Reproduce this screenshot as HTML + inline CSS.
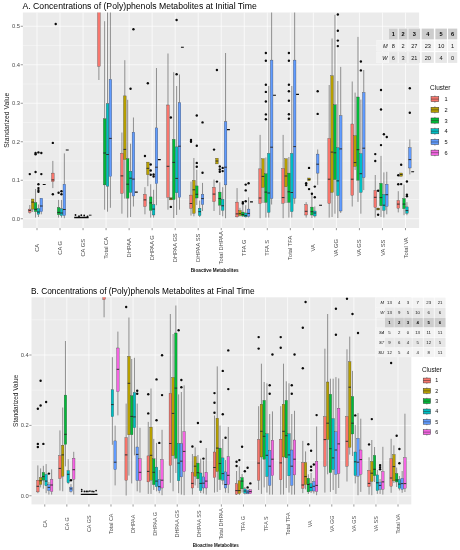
<!DOCTYPE html>
<html><head><meta charset="utf-8"><title>Figure</title>
<style>html,body{margin:0;padding:0;background:#fff}svg{display:block}</style>
</head><body>
<svg width="460" height="550" viewBox="0 0 460 550" font-family="Liberation Sans, sans-serif">
<rect width="460" height="550" fill="#fff"/>
<defs><filter id="soft" x="0" y="0" width="460" height="550" filterUnits="userSpaceOnUse" color-interpolation-filters="sRGB"><feGaussianBlur stdDeviation="0.3"/></filter></defs>
<g filter="url(#soft)">
<rect width="460" height="550" fill="#fff"/>
<clipPath id="cpA"><rect x="22.9" y="12.5" width="396.20000000000005" height="215.5"/></clipPath>
<rect x="22.9" y="12.5" width="396.20000000000005" height="215.5" fill="#EBEBEB"/>
<line x1="22.9" x2="419.1" y1="199.5" y2="199.5" stroke="#fff" stroke-width="0.35"/>
<line x1="22.9" x2="419.1" y1="161.0" y2="161.0" stroke="#fff" stroke-width="0.35"/>
<line x1="22.9" x2="419.1" y1="122.5" y2="122.5" stroke="#fff" stroke-width="0.35"/>
<line x1="22.9" x2="419.1" y1="84.0" y2="84.0" stroke="#fff" stroke-width="0.35"/>
<line x1="22.9" x2="419.1" y1="45.5" y2="45.5" stroke="#fff" stroke-width="0.35"/>
<line x1="22.9" x2="419.1" y1="218.75" y2="218.75" stroke="#fff" stroke-width="0.7"/>
<line x1="22.9" x2="419.1" y1="180.25" y2="180.25" stroke="#fff" stroke-width="0.7"/>
<line x1="22.9" x2="419.1" y1="141.75" y2="141.75" stroke="#fff" stroke-width="0.7"/>
<line x1="22.9" x2="419.1" y1="103.25" y2="103.25" stroke="#fff" stroke-width="0.7"/>
<line x1="22.9" x2="419.1" y1="64.75" y2="64.75" stroke="#fff" stroke-width="0.7"/>
<line x1="22.9" x2="419.1" y1="26.25" y2="26.25" stroke="#fff" stroke-width="0.7"/>
<line x1="37.00" x2="37.00" y1="12.5" y2="228.0" stroke="#fff" stroke-width="0.7"/>
<line x1="60.03" x2="60.03" y1="12.5" y2="228.0" stroke="#fff" stroke-width="0.7"/>
<line x1="83.06" x2="83.06" y1="12.5" y2="228.0" stroke="#fff" stroke-width="0.7"/>
<line x1="106.09" x2="106.09" y1="12.5" y2="228.0" stroke="#fff" stroke-width="0.7"/>
<line x1="129.12" x2="129.12" y1="12.5" y2="228.0" stroke="#fff" stroke-width="0.7"/>
<line x1="152.15" x2="152.15" y1="12.5" y2="228.0" stroke="#fff" stroke-width="0.7"/>
<line x1="175.18" x2="175.18" y1="12.5" y2="228.0" stroke="#fff" stroke-width="0.7"/>
<line x1="198.21" x2="198.21" y1="12.5" y2="228.0" stroke="#fff" stroke-width="0.7"/>
<line x1="221.24" x2="221.24" y1="12.5" y2="228.0" stroke="#fff" stroke-width="0.7"/>
<line x1="244.27" x2="244.27" y1="12.5" y2="228.0" stroke="#fff" stroke-width="0.7"/>
<line x1="267.30" x2="267.30" y1="12.5" y2="228.0" stroke="#fff" stroke-width="0.7"/>
<line x1="290.33" x2="290.33" y1="12.5" y2="228.0" stroke="#fff" stroke-width="0.7"/>
<line x1="313.36" x2="313.36" y1="12.5" y2="228.0" stroke="#fff" stroke-width="0.7"/>
<line x1="336.39" x2="336.39" y1="12.5" y2="228.0" stroke="#fff" stroke-width="0.7"/>
<line x1="359.42" x2="359.42" y1="12.5" y2="228.0" stroke="#fff" stroke-width="0.7"/>
<line x1="382.45" x2="382.45" y1="12.5" y2="228.0" stroke="#fff" stroke-width="0.7"/>
<line x1="405.48" x2="405.48" y1="12.5" y2="228.0" stroke="#fff" stroke-width="0.7"/>
<g clip-path="url(#cpA)">
<line x1="29.80" x2="29.80" y1="205" y2="209.1" stroke="#333333" stroke-width="0.5"/>
<line x1="29.80" x2="29.80" y1="212.4" y2="213.7" stroke="#333333" stroke-width="0.5"/>
<rect x="28.48" y="209.1" width="2.64" height="3.30" fill="#F8766D" stroke="#333333" stroke-width="0.3"/>
<line x1="28.46" x2="31.14" y1="210.4" y2="210.4" stroke="#222" stroke-width="0.9"/>
<line x1="32.68" x2="32.68" y1="209.1" y2="212" stroke="#333333" stroke-width="0.5"/>
<rect x="31.36" y="199" width="2.64" height="10.10" fill="#B79F00" stroke="#333333" stroke-width="0.3"/>
<line x1="31.34" x2="34.02" y1="202.1" y2="202.1" stroke="#222" stroke-width="0.9"/>
<line x1="35.56" x2="35.56" y1="189" y2="202.5" stroke="#333333" stroke-width="0.5"/>
<line x1="35.56" x2="35.56" y1="211.7" y2="217.6" stroke="#333333" stroke-width="0.5"/>
<rect x="34.24" y="202.5" width="2.64" height="9.20" fill="#00BA38" stroke="#333333" stroke-width="0.3"/>
<line x1="34.22" x2="36.90" y1="209.3" y2="209.3" stroke="#222" stroke-width="0.9"/>
<line x1="38.44" x2="38.44" y1="204.5" y2="208.4" stroke="#333333" stroke-width="0.5"/>
<line x1="38.44" x2="38.44" y1="214.3" y2="217" stroke="#333333" stroke-width="0.5"/>
<rect x="37.12" y="208.4" width="2.64" height="5.90" fill="#00BFC4" stroke="#333333" stroke-width="0.3"/>
<line x1="37.10" x2="39.78" y1="212" y2="212" stroke="#222" stroke-width="0.9"/>
<line x1="41.32" x2="41.32" y1="211.7" y2="214.3" stroke="#333333" stroke-width="0.5"/>
<rect x="40.00" y="198.2" width="2.64" height="13.50" fill="#619CFF" stroke="#333333" stroke-width="0.3"/>
<line x1="39.98" x2="42.66" y1="206" y2="206" stroke="#222" stroke-width="0.9"/>
<line x1="42.76" x2="45.64" y1="184.5" y2="184.5" stroke="#0a0a0a" stroke-width="1.15"/>
<circle cx="29.80" cy="174.1" r="1.2" fill="#0a0a0a"/>
<circle cx="35.56" cy="172" r="1.2" fill="#0a0a0a"/>
<circle cx="35.56" cy="153" r="1.2" fill="#0a0a0a"/>
<circle cx="35.56" cy="154.2" r="1.2" fill="#0a0a0a"/>
<circle cx="38.44" cy="152.4" r="1.2" fill="#0a0a0a"/>
<circle cx="38.44" cy="184.2" r="1.2" fill="#0a0a0a"/>
<circle cx="38.44" cy="188.1" r="1.2" fill="#0a0a0a"/>
<circle cx="38.44" cy="190.1" r="1.2" fill="#0a0a0a"/>
<circle cx="38.44" cy="191.8" r="1.2" fill="#0a0a0a"/>
<circle cx="41.32" cy="174.1" r="1.2" fill="#0a0a0a"/>
<circle cx="41.32" cy="153" r="1.2" fill="#0a0a0a"/>
<line x1="52.83" x2="52.83" y1="160.9" y2="173.1" stroke="#333333" stroke-width="0.5"/>
<line x1="52.83" x2="52.83" y1="181.6" y2="188.1" stroke="#333333" stroke-width="0.5"/>
<rect x="51.51" y="173.1" width="2.64" height="8.50" fill="#F8766D" stroke="#333333" stroke-width="0.3"/>
<line x1="51.49" x2="54.17" y1="179.9" y2="179.9" stroke="#222" stroke-width="0.9"/>
<line x1="58.59" x2="58.59" y1="199.9" y2="207.4" stroke="#333333" stroke-width="0.5"/>
<line x1="58.59" x2="58.59" y1="214.7" y2="217.6" stroke="#333333" stroke-width="0.5"/>
<rect x="57.27" y="207.4" width="2.64" height="7.30" fill="#00BA38" stroke="#333333" stroke-width="0.3"/>
<line x1="57.25" x2="59.93" y1="212.4" y2="212.4" stroke="#222" stroke-width="0.9"/>
<line x1="61.47" x2="61.47" y1="199.9" y2="208.7" stroke="#333333" stroke-width="0.5"/>
<line x1="61.47" x2="61.47" y1="215.6" y2="217.6" stroke="#333333" stroke-width="0.5"/>
<rect x="60.15" y="208.7" width="2.64" height="6.90" fill="#00BFC4" stroke="#333333" stroke-width="0.3"/>
<line x1="60.13" x2="62.81" y1="213" y2="213" stroke="#222" stroke-width="0.9"/>
<line x1="64.35" x2="64.35" y1="153.4" y2="184.2" stroke="#333333" stroke-width="0.5"/>
<line x1="64.35" x2="64.35" y1="215.6" y2="218.2" stroke="#333333" stroke-width="0.5"/>
<rect x="63.03" y="184.2" width="2.64" height="31.40" fill="#619CFF" stroke="#333333" stroke-width="0.3"/>
<line x1="63.01" x2="65.69" y1="209.5" y2="209.5" stroke="#222" stroke-width="0.9"/>
<line x1="65.79" x2="68.67" y1="150" y2="150" stroke="#0a0a0a" stroke-width="1.15"/>
<circle cx="52.83" cy="142.9" r="1.2" fill="#0a0a0a"/>
<circle cx="52.83" cy="194.3" r="1.2" fill="#0a0a0a"/>
<circle cx="55.71" cy="24" r="1.2" fill="#0a0a0a"/>
<circle cx="58.59" cy="192.7" r="1.2" fill="#0a0a0a"/>
<circle cx="61.47" cy="191.2" r="1.2" fill="#0a0a0a"/>
<circle cx="61.47" cy="194.3" r="1.2" fill="#0a0a0a"/>
<line x1="74.2" x2="88.6" y1="217.6" y2="217.6" stroke="#0a0a0a" stroke-width="1.5"/>
<line x1="88.9" x2="91.5" y1="215.2" y2="215.2" stroke="#111" stroke-width="0.9"/>
<circle cx="75.5" cy="215.0" r="0.9" fill="#0a0a0a"/>
<circle cx="81.3" cy="215.2" r="0.9" fill="#0a0a0a"/>
<circle cx="84.2" cy="215.5" r="0.9" fill="#0a0a0a"/>
<circle cx="79.0" cy="216.2" r="0.9" fill="#0a0a0a"/>
<circle cx="87.5" cy="216.5" r="0.9" fill="#0a0a0a"/>
<line x1="98.89" x2="98.89" y1="66.3" y2="80" stroke="#333333" stroke-width="0.5"/>
<rect x="97.57" y="0" width="2.64" height="66.30" fill="#F8766D" stroke="#333333" stroke-width="0.3"/>
<line x1="104.65" x2="104.65" y1="21.2" y2="118.8" stroke="#333333" stroke-width="0.5"/>
<line x1="104.65" x2="104.65" y1="184.9" y2="209.7" stroke="#333333" stroke-width="0.5"/>
<rect x="103.33" y="118.8" width="2.64" height="66.10" fill="#00BA38" stroke="#333333" stroke-width="0.3"/>
<line x1="103.31" x2="105.99" y1="153" y2="153" stroke="#222" stroke-width="0.9"/>
<line x1="107.53" x2="107.53" y1="0" y2="103.7" stroke="#333333" stroke-width="0.5"/>
<line x1="107.53" x2="107.53" y1="186.2" y2="211.7" stroke="#333333" stroke-width="0.5"/>
<rect x="106.21" y="103.7" width="2.64" height="82.50" fill="#00BFC4" stroke="#333333" stroke-width="0.3"/>
<line x1="106.19" x2="108.87" y1="154.5" y2="154.5" stroke="#222" stroke-width="0.9"/>
<line x1="110.41" x2="110.41" y1="0" y2="79.4" stroke="#333333" stroke-width="0.5"/>
<line x1="110.41" x2="110.41" y1="176.4" y2="207.8" stroke="#333333" stroke-width="0.5"/>
<rect x="109.09" y="79.4" width="2.64" height="97.00" fill="#619CFF" stroke="#333333" stroke-width="0.3"/>
<line x1="109.07" x2="111.75" y1="138.4" y2="138.4" stroke="#222" stroke-width="0.9"/>
<line x1="121.92" x2="121.92" y1="132.5" y2="153.3" stroke="#333333" stroke-width="0.5"/>
<line x1="121.92" x2="121.92" y1="193.4" y2="213.7" stroke="#333333" stroke-width="0.5"/>
<rect x="120.60" y="153.3" width="2.64" height="40.10" fill="#F8766D" stroke="#333333" stroke-width="0.3"/>
<line x1="120.58" x2="123.26" y1="175.9" y2="175.9" stroke="#222" stroke-width="0.9"/>
<line x1="124.80" x2="124.80" y1="60.2" y2="95.9" stroke="#333333" stroke-width="0.5"/>
<line x1="124.80" x2="124.80" y1="159.5" y2="198.6" stroke="#333333" stroke-width="0.5"/>
<rect x="123.48" y="95.9" width="2.64" height="63.60" fill="#B79F00" stroke="#333333" stroke-width="0.3"/>
<line x1="123.46" x2="126.14" y1="149.4" y2="149.4" stroke="#222" stroke-width="0.9"/>
<line x1="127.68" x2="127.68" y1="99.8" y2="158.6" stroke="#333333" stroke-width="0.5"/>
<line x1="127.68" x2="127.68" y1="198.2" y2="217.6" stroke="#333333" stroke-width="0.5"/>
<rect x="126.36" y="158.6" width="2.64" height="39.60" fill="#00BA38" stroke="#333333" stroke-width="0.3"/>
<line x1="126.34" x2="129.02" y1="184.2" y2="184.2" stroke="#222" stroke-width="0.9"/>
<line x1="130.56" x2="130.56" y1="143.7" y2="171.2" stroke="#333333" stroke-width="0.5"/>
<line x1="130.56" x2="130.56" y1="192.5" y2="217" stroke="#333333" stroke-width="0.5"/>
<rect x="129.24" y="171.2" width="2.64" height="21.30" fill="#00BFC4" stroke="#333333" stroke-width="0.3"/>
<line x1="129.22" x2="131.90" y1="178.2" y2="178.2" stroke="#222" stroke-width="0.9"/>
<line x1="133.44" x2="133.44" y1="117.5" y2="132.2" stroke="#333333" stroke-width="0.5"/>
<line x1="133.44" x2="133.44" y1="196" y2="206.5" stroke="#333333" stroke-width="0.5"/>
<rect x="132.12" y="132.2" width="2.64" height="63.80" fill="#619CFF" stroke="#333333" stroke-width="0.3"/>
<line x1="132.10" x2="134.78" y1="179.1" y2="179.1" stroke="#222" stroke-width="0.9"/>
<line x1="134.88" x2="137.76" y1="192.1" y2="192.1" stroke="#0a0a0a" stroke-width="1.15"/>
<circle cx="130.56" cy="88.7" r="1.2" fill="#0a0a0a"/>
<circle cx="133.44" cy="29.3" r="1.2" fill="#0a0a0a"/>
<line x1="144.95" x2="144.95" y1="187.2" y2="194.3" stroke="#333333" stroke-width="0.5"/>
<line x1="144.95" x2="144.95" y1="206.5" y2="214.3" stroke="#333333" stroke-width="0.5"/>
<rect x="143.63" y="194.3" width="2.64" height="12.20" fill="#F8766D" stroke="#333333" stroke-width="0.3"/>
<line x1="143.61" x2="146.29" y1="199.9" y2="199.9" stroke="#222" stroke-width="0.9"/>
<line x1="147.83" x2="147.83" y1="174.7" y2="186.2" stroke="#333333" stroke-width="0.5"/>
<rect x="146.51" y="162.1" width="2.64" height="12.60" fill="#B79F00" stroke="#333333" stroke-width="0.3"/>
<line x1="146.49" x2="149.17" y1="168.3" y2="168.3" stroke="#222" stroke-width="0.9"/>
<line x1="150.71" x2="150.71" y1="184.2" y2="196.9" stroke="#333333" stroke-width="0.5"/>
<line x1="150.71" x2="150.71" y1="210.4" y2="217.6" stroke="#333333" stroke-width="0.5"/>
<rect x="149.39" y="196.9" width="2.64" height="13.50" fill="#00BA38" stroke="#333333" stroke-width="0.3"/>
<line x1="149.37" x2="152.05" y1="202.9" y2="202.9" stroke="#222" stroke-width="0.9"/>
<line x1="153.59" x2="153.59" y1="189.8" y2="204.5" stroke="#333333" stroke-width="0.5"/>
<line x1="153.59" x2="153.59" y1="215" y2="217.6" stroke="#333333" stroke-width="0.5"/>
<rect x="152.27" y="204.5" width="2.64" height="10.50" fill="#00BFC4" stroke="#333333" stroke-width="0.3"/>
<line x1="152.25" x2="154.93" y1="209.1" y2="209.1" stroke="#222" stroke-width="0.9"/>
<line x1="156.47" x2="156.47" y1="68" y2="127.9" stroke="#333333" stroke-width="0.5"/>
<line x1="156.47" x2="156.47" y1="183.6" y2="205.2" stroke="#333333" stroke-width="0.5"/>
<rect x="155.15" y="127.9" width="2.64" height="55.70" fill="#619CFF" stroke="#333333" stroke-width="0.3"/>
<line x1="155.13" x2="157.81" y1="167.2" y2="167.2" stroke="#222" stroke-width="0.9"/>
<line x1="157.91" x2="160.79" y1="159.6" y2="159.6" stroke="#0a0a0a" stroke-width="1.15"/>
<circle cx="144.95" cy="156" r="1.2" fill="#0a0a0a"/>
<circle cx="147.83" cy="83.3" r="1.2" fill="#0a0a0a"/>
<circle cx="150.71" cy="164.5" r="1.2" fill="#0a0a0a"/>
<circle cx="150.71" cy="170.5" r="1.2" fill="#0a0a0a"/>
<circle cx="150.71" cy="174.7" r="1.2" fill="#0a0a0a"/>
<circle cx="153.59" cy="174.5" r="1.2" fill="#0a0a0a"/>
<circle cx="153.59" cy="176.5" r="1.2" fill="#0a0a0a"/>
<line x1="167.98" x2="167.98" y1="53.5" y2="105" stroke="#333333" stroke-width="0.5"/>
<line x1="167.98" x2="167.98" y1="197.3" y2="209.7" stroke="#333333" stroke-width="0.5"/>
<rect x="166.66" y="105" width="2.64" height="92.30" fill="#F8766D" stroke="#333333" stroke-width="0.3"/>
<line x1="166.64" x2="169.32" y1="166.3" y2="166.3" stroke="#222" stroke-width="0.9"/>
<rect x="169.54" y="197.7" width="2.64" height="2.20" fill="#B79F00" stroke="#333333" stroke-width="0.3"/>
<line x1="169.52" x2="172.20" y1="198.8" y2="198.8" stroke="#222" stroke-width="0.9"/>
<line x1="173.74" x2="173.74" y1="72.1" y2="139.3" stroke="#333333" stroke-width="0.5"/>
<line x1="173.74" x2="173.74" y1="199.6" y2="218" stroke="#333333" stroke-width="0.5"/>
<rect x="172.42" y="139.3" width="2.64" height="60.30" fill="#00BA38" stroke="#333333" stroke-width="0.3"/>
<line x1="172.40" x2="175.08" y1="162.4" y2="162.4" stroke="#222" stroke-width="0.9"/>
<line x1="176.62" x2="176.62" y1="86" y2="146.9" stroke="#333333" stroke-width="0.5"/>
<line x1="176.62" x2="176.62" y1="192.8" y2="215" stroke="#333333" stroke-width="0.5"/>
<rect x="175.30" y="146.9" width="2.64" height="45.90" fill="#00BFC4" stroke="#333333" stroke-width="0.3"/>
<line x1="175.28" x2="177.96" y1="178.4" y2="178.4" stroke="#222" stroke-width="0.9"/>
<line x1="179.50" x2="179.50" y1="74.5" y2="102.7" stroke="#333333" stroke-width="0.5"/>
<line x1="179.50" x2="179.50" y1="197.3" y2="209.7" stroke="#333333" stroke-width="0.5"/>
<rect x="178.18" y="102.7" width="2.64" height="94.60" fill="#619CFF" stroke="#333333" stroke-width="0.3"/>
<line x1="178.16" x2="180.84" y1="146.2" y2="146.2" stroke="#222" stroke-width="0.9"/>
<line x1="180.94" x2="183.82" y1="47.2" y2="47.2" stroke="#0a0a0a" stroke-width="1.15"/>
<circle cx="170.86" cy="117.5" r="1.2" fill="#0a0a0a"/>
<circle cx="170.86" cy="206.9" r="1.2" fill="#0a0a0a"/>
<circle cx="176.62" cy="20" r="1.2" fill="#0a0a0a"/>
<circle cx="176.62" cy="74.2" r="1.2" fill="#0a0a0a"/>
<line x1="191.01" x2="191.01" y1="181.6" y2="195.1" stroke="#333333" stroke-width="0.5"/>
<line x1="191.01" x2="191.01" y1="208.2" y2="215.6" stroke="#333333" stroke-width="0.5"/>
<rect x="189.69" y="195.1" width="2.64" height="13.10" fill="#F8766D" stroke="#333333" stroke-width="0.3"/>
<line x1="189.67" x2="192.35" y1="203.5" y2="203.5" stroke="#222" stroke-width="0.9"/>
<line x1="193.89" x2="193.89" y1="158" y2="180.3" stroke="#333333" stroke-width="0.5"/>
<line x1="193.89" x2="193.89" y1="213.4" y2="216.3" stroke="#333333" stroke-width="0.5"/>
<rect x="192.57" y="180.3" width="2.64" height="33.10" fill="#B79F00" stroke="#333333" stroke-width="0.3"/>
<line x1="192.55" x2="195.23" y1="189.8" y2="189.8" stroke="#222" stroke-width="0.9"/>
<line x1="196.77" x2="196.77" y1="169.8" y2="185.9" stroke="#333333" stroke-width="0.5"/>
<line x1="196.77" x2="196.77" y1="198" y2="205" stroke="#333333" stroke-width="0.5"/>
<rect x="195.45" y="185.9" width="2.64" height="12.10" fill="#00BA38" stroke="#333333" stroke-width="0.3"/>
<line x1="195.43" x2="198.11" y1="194.3" y2="194.3" stroke="#222" stroke-width="0.9"/>
<line x1="199.65" x2="199.65" y1="200.6" y2="208.2" stroke="#333333" stroke-width="0.5"/>
<line x1="199.65" x2="199.65" y1="215.6" y2="217" stroke="#333333" stroke-width="0.5"/>
<rect x="198.33" y="208.2" width="2.64" height="7.40" fill="#00BFC4" stroke="#333333" stroke-width="0.3"/>
<line x1="198.31" x2="200.99" y1="211.7" y2="211.7" stroke="#222" stroke-width="0.9"/>
<line x1="202.53" x2="202.53" y1="182.9" y2="194.3" stroke="#333333" stroke-width="0.5"/>
<line x1="202.53" x2="202.53" y1="204.5" y2="211" stroke="#333333" stroke-width="0.5"/>
<rect x="201.21" y="194.3" width="2.64" height="10.20" fill="#619CFF" stroke="#333333" stroke-width="0.3"/>
<line x1="201.19" x2="203.87" y1="198.6" y2="198.6" stroke="#222" stroke-width="0.9"/>
<circle cx="191.01" cy="140" r="1.2" fill="#0a0a0a"/>
<circle cx="191.01" cy="141.8" r="1.2" fill="#0a0a0a"/>
<circle cx="196.77" cy="162.9" r="1.2" fill="#0a0a0a"/>
<circle cx="196.77" cy="166.8" r="1.2" fill="#0a0a0a"/>
<circle cx="196.77" cy="115.5" r="1.2" fill="#0a0a0a"/>
<circle cx="196.77" cy="145.8" r="1.2" fill="#0a0a0a"/>
<circle cx="202.53" cy="172.8" r="1.2" fill="#0a0a0a"/>
<circle cx="202.53" cy="122.4" r="1.2" fill="#0a0a0a"/>
<line x1="214.04" x2="214.04" y1="179.6" y2="187.3" stroke="#333333" stroke-width="0.5"/>
<line x1="214.04" x2="214.04" y1="201.6" y2="211" stroke="#333333" stroke-width="0.5"/>
<rect x="212.72" y="187.3" width="2.64" height="14.30" fill="#F8766D" stroke="#333333" stroke-width="0.3"/>
<line x1="212.70" x2="215.38" y1="194.1" y2="194.1" stroke="#222" stroke-width="0.9"/>
<rect x="215.60" y="158.2" width="2.64" height="5.70" fill="#B79F00" stroke="#333333" stroke-width="0.3"/>
<line x1="215.58" x2="218.26" y1="161" y2="161" stroke="#222" stroke-width="0.9"/>
<line x1="219.80" x2="219.80" y1="182.3" y2="192.1" stroke="#333333" stroke-width="0.5"/>
<line x1="219.80" x2="219.80" y1="205.2" y2="215" stroke="#333333" stroke-width="0.5"/>
<rect x="218.48" y="192.1" width="2.64" height="13.10" fill="#00BA38" stroke="#333333" stroke-width="0.3"/>
<line x1="218.46" x2="221.14" y1="198.6" y2="198.6" stroke="#222" stroke-width="0.9"/>
<line x1="222.68" x2="222.68" y1="187.2" y2="199.3" stroke="#333333" stroke-width="0.5"/>
<line x1="222.68" x2="222.68" y1="210.4" y2="216.3" stroke="#333333" stroke-width="0.5"/>
<rect x="221.36" y="199.3" width="2.64" height="11.10" fill="#00BFC4" stroke="#333333" stroke-width="0.3"/>
<line x1="221.34" x2="224.02" y1="205.8" y2="205.8" stroke="#222" stroke-width="0.9"/>
<line x1="225.56" x2="225.56" y1="53" y2="121.8" stroke="#333333" stroke-width="0.5"/>
<line x1="225.56" x2="225.56" y1="184.9" y2="218.2" stroke="#333333" stroke-width="0.5"/>
<rect x="224.24" y="121.8" width="2.64" height="63.10" fill="#619CFF" stroke="#333333" stroke-width="0.3"/>
<line x1="224.22" x2="226.90" y1="167.2" y2="167.2" stroke="#222" stroke-width="0.9"/>
<line x1="227.00" x2="229.88" y1="129.6" y2="129.6" stroke="#0a0a0a" stroke-width="1.15"/>
<circle cx="214.04" cy="149.6" r="1.2" fill="#0a0a0a"/>
<circle cx="216.92" cy="70" r="1.2" fill="#0a0a0a"/>
<circle cx="216.92" cy="181.6" r="1.2" fill="#0a0a0a"/>
<circle cx="219.80" cy="166.5" r="1.2" fill="#0a0a0a"/>
<circle cx="219.80" cy="169.5" r="1.2" fill="#0a0a0a"/>
<circle cx="219.80" cy="171.8" r="1.2" fill="#0a0a0a"/>
<circle cx="222.68" cy="167.9" r="1.2" fill="#0a0a0a"/>
<circle cx="222.68" cy="171.1" r="1.2" fill="#0a0a0a"/>
<line x1="237.07" x2="237.07" y1="188.1" y2="202.1" stroke="#333333" stroke-width="0.5"/>
<line x1="237.07" x2="237.07" y1="216.9" y2="217.5" stroke="#333333" stroke-width="0.5"/>
<rect x="235.75" y="202.1" width="2.64" height="14.80" fill="#F8766D" stroke="#333333" stroke-width="0.3"/>
<line x1="235.73" x2="238.41" y1="213.9" y2="213.9" stroke="#222" stroke-width="0.9"/>
<line x1="239.95" x2="239.95" y1="207.8" y2="210.4" stroke="#333333" stroke-width="0.5"/>
<line x1="239.95" x2="239.95" y1="215.6" y2="216.5" stroke="#333333" stroke-width="0.5"/>
<rect x="238.63" y="210.4" width="2.64" height="5.20" fill="#B79F00" stroke="#333333" stroke-width="0.3"/>
<line x1="238.61" x2="241.29" y1="213.7" y2="213.7" stroke="#222" stroke-width="0.9"/>
<line x1="242.83" x2="242.83" y1="204.5" y2="212.1" stroke="#333333" stroke-width="0.5"/>
<line x1="242.83" x2="242.83" y1="216" y2="217" stroke="#333333" stroke-width="0.5"/>
<rect x="241.51" y="212.1" width="2.64" height="3.90" fill="#00BA38" stroke="#333333" stroke-width="0.3"/>
<line x1="241.49" x2="244.17" y1="214.5" y2="214.5" stroke="#222" stroke-width="0.9"/>
<line x1="245.71" x2="245.71" y1="205.2" y2="213" stroke="#333333" stroke-width="0.5"/>
<line x1="245.71" x2="245.71" y1="216.9" y2="217.5" stroke="#333333" stroke-width="0.5"/>
<rect x="244.39" y="213" width="2.64" height="3.90" fill="#00BFC4" stroke="#333333" stroke-width="0.3"/>
<line x1="244.37" x2="247.05" y1="215.6" y2="215.6" stroke="#222" stroke-width="0.9"/>
<line x1="248.59" x2="248.59" y1="197.3" y2="209.1" stroke="#333333" stroke-width="0.5"/>
<line x1="248.59" x2="248.59" y1="216.3" y2="217.5" stroke="#333333" stroke-width="0.5"/>
<rect x="247.27" y="209.1" width="2.64" height="7.20" fill="#619CFF" stroke="#333333" stroke-width="0.3"/>
<line x1="247.25" x2="249.93" y1="213.4" y2="213.4" stroke="#222" stroke-width="0.9"/>
<line x1="250.03" x2="252.91" y1="201.9" y2="201.9" stroke="#0a0a0a" stroke-width="1.15"/>
<circle cx="242.83" cy="202.1" r="1.2" fill="#0a0a0a"/>
<circle cx="242.83" cy="203.5" r="1.2" fill="#0a0a0a"/>
<circle cx="245.71" cy="184.6" r="1.2" fill="#0a0a0a"/>
<circle cx="245.71" cy="190.4" r="1.2" fill="#0a0a0a"/>
<circle cx="245.71" cy="201.2" r="1.2" fill="#0a0a0a"/>
<circle cx="248.59" cy="183.2" r="1.2" fill="#0a0a0a"/>
<line x1="260.10" x2="260.10" y1="134.9" y2="168.9" stroke="#333333" stroke-width="0.5"/>
<line x1="260.10" x2="260.10" y1="203.5" y2="218.2" stroke="#333333" stroke-width="0.5"/>
<rect x="258.78" y="168.9" width="2.64" height="34.60" fill="#F8766D" stroke="#333333" stroke-width="0.3"/>
<line x1="258.76" x2="261.44" y1="198" y2="198" stroke="#222" stroke-width="0.9"/>
<line x1="262.98" x2="262.98" y1="187.5" y2="203" stroke="#333333" stroke-width="0.5"/>
<rect x="261.66" y="158.7" width="2.64" height="28.80" fill="#B79F00" stroke="#333333" stroke-width="0.3"/>
<line x1="261.64" x2="264.32" y1="176.4" y2="176.4" stroke="#222" stroke-width="0.9"/>
<line x1="265.86" x2="265.86" y1="157.5" y2="173.7" stroke="#333333" stroke-width="0.5"/>
<line x1="265.86" x2="265.86" y1="202.5" y2="217.6" stroke="#333333" stroke-width="0.5"/>
<rect x="264.54" y="173.7" width="2.64" height="28.80" fill="#00BA38" stroke="#333333" stroke-width="0.3"/>
<line x1="264.52" x2="267.20" y1="192.1" y2="192.1" stroke="#222" stroke-width="0.9"/>
<line x1="268.74" x2="268.74" y1="86" y2="153.4" stroke="#333333" stroke-width="0.5"/>
<line x1="268.74" x2="268.74" y1="212.4" y2="217.6" stroke="#333333" stroke-width="0.5"/>
<rect x="267.42" y="153.4" width="2.64" height="59.00" fill="#00BFC4" stroke="#333333" stroke-width="0.3"/>
<line x1="267.40" x2="270.08" y1="193" y2="193" stroke="#222" stroke-width="0.9"/>
<line x1="271.62" x2="271.62" y1="0" y2="60.1" stroke="#333333" stroke-width="0.5"/>
<line x1="271.62" x2="271.62" y1="198.6" y2="204.5" stroke="#333333" stroke-width="0.5"/>
<rect x="270.30" y="60.1" width="2.64" height="138.50" fill="#619CFF" stroke="#333333" stroke-width="0.3"/>
<line x1="270.28" x2="272.96" y1="147.2" y2="147.2" stroke="#222" stroke-width="0.9"/>
<line x1="273.06" x2="275.94" y1="95.2" y2="95.2" stroke="#0a0a0a" stroke-width="1.15"/>
<circle cx="265.86" cy="53" r="1.2" fill="#0a0a0a"/>
<circle cx="265.86" cy="60.8" r="1.2" fill="#0a0a0a"/>
<circle cx="265.86" cy="84.8" r="1.2" fill="#0a0a0a"/>
<circle cx="265.86" cy="91.9" r="1.2" fill="#0a0a0a"/>
<circle cx="265.86" cy="101.5" r="1.2" fill="#0a0a0a"/>
<circle cx="265.86" cy="114.4" r="1.2" fill="#0a0a0a"/>
<circle cx="265.86" cy="119.2" r="1.2" fill="#0a0a0a"/>
<line x1="283.13" x2="283.13" y1="134.9" y2="168.5" stroke="#333333" stroke-width="0.5"/>
<line x1="283.13" x2="283.13" y1="203.2" y2="218.2" stroke="#333333" stroke-width="0.5"/>
<rect x="281.81" y="168.5" width="2.64" height="34.70" fill="#F8766D" stroke="#333333" stroke-width="0.3"/>
<line x1="281.79" x2="284.47" y1="197.6" y2="197.6" stroke="#222" stroke-width="0.9"/>
<line x1="286.01" x2="286.01" y1="186.8" y2="203" stroke="#333333" stroke-width="0.5"/>
<rect x="284.69" y="158.7" width="2.64" height="28.10" fill="#B79F00" stroke="#333333" stroke-width="0.3"/>
<line x1="284.67" x2="287.35" y1="176" y2="176" stroke="#222" stroke-width="0.9"/>
<line x1="288.89" x2="288.89" y1="157" y2="173.1" stroke="#333333" stroke-width="0.5"/>
<line x1="288.89" x2="288.89" y1="202.5" y2="217.6" stroke="#333333" stroke-width="0.5"/>
<rect x="287.57" y="173.1" width="2.64" height="29.40" fill="#00BA38" stroke="#333333" stroke-width="0.3"/>
<line x1="287.55" x2="290.23" y1="191.8" y2="191.8" stroke="#222" stroke-width="0.9"/>
<line x1="291.77" x2="291.77" y1="86" y2="153.4" stroke="#333333" stroke-width="0.5"/>
<line x1="291.77" x2="291.77" y1="211.7" y2="217.6" stroke="#333333" stroke-width="0.5"/>
<rect x="290.45" y="153.4" width="2.64" height="58.30" fill="#00BFC4" stroke="#333333" stroke-width="0.3"/>
<line x1="290.43" x2="293.11" y1="192.5" y2="192.5" stroke="#222" stroke-width="0.9"/>
<line x1="294.65" x2="294.65" y1="0" y2="60.1" stroke="#333333" stroke-width="0.5"/>
<line x1="294.65" x2="294.65" y1="198.2" y2="203.8" stroke="#333333" stroke-width="0.5"/>
<rect x="293.33" y="60.1" width="2.64" height="138.10" fill="#619CFF" stroke="#333333" stroke-width="0.3"/>
<line x1="293.31" x2="295.99" y1="146.6" y2="146.6" stroke="#222" stroke-width="0.9"/>
<line x1="296.09" x2="298.97" y1="94.3" y2="94.3" stroke="#0a0a0a" stroke-width="1.15"/>
<circle cx="288.89" cy="53" r="1.2" fill="#0a0a0a"/>
<circle cx="288.89" cy="60.8" r="1.2" fill="#0a0a0a"/>
<circle cx="288.89" cy="84.8" r="1.2" fill="#0a0a0a"/>
<circle cx="288.89" cy="91.3" r="1.2" fill="#0a0a0a"/>
<circle cx="288.89" cy="100.8" r="1.2" fill="#0a0a0a"/>
<circle cx="288.89" cy="114.2" r="1.2" fill="#0a0a0a"/>
<circle cx="288.89" cy="118.8" r="1.2" fill="#0a0a0a"/>
<line x1="306.16" x2="306.16" y1="202.1" y2="204.5" stroke="#333333" stroke-width="0.5"/>
<line x1="306.16" x2="306.16" y1="215" y2="217.6" stroke="#333333" stroke-width="0.5"/>
<rect x="304.84" y="204.5" width="2.64" height="10.50" fill="#F8766D" stroke="#333333" stroke-width="0.3"/>
<line x1="304.82" x2="307.50" y1="211.3" y2="211.3" stroke="#222" stroke-width="0.9"/>
<rect x="307.72" y="178" width="2.64" height="2.70" fill="#B79F00" stroke="#333333" stroke-width="0.3"/>
<line x1="307.70" x2="310.38" y1="179.4" y2="179.4" stroke="#222" stroke-width="0.9"/>
<line x1="311.92" x2="311.92" y1="193.8" y2="207.1" stroke="#333333" stroke-width="0.5"/>
<line x1="311.92" x2="311.92" y1="215" y2="218" stroke="#333333" stroke-width="0.5"/>
<rect x="310.60" y="207.1" width="2.64" height="7.90" fill="#00BA38" stroke="#333333" stroke-width="0.3"/>
<line x1="310.58" x2="313.26" y1="211.7" y2="211.7" stroke="#222" stroke-width="0.9"/>
<line x1="314.80" x2="314.80" y1="206.5" y2="211" stroke="#333333" stroke-width="0.5"/>
<line x1="314.80" x2="314.80" y1="216" y2="217.6" stroke="#333333" stroke-width="0.5"/>
<rect x="313.48" y="211" width="2.64" height="5.00" fill="#00BFC4" stroke="#333333" stroke-width="0.3"/>
<line x1="313.46" x2="316.14" y1="213" y2="213" stroke="#222" stroke-width="0.9"/>
<line x1="317.68" x2="317.68" y1="149.5" y2="154.1" stroke="#333333" stroke-width="0.5"/>
<line x1="317.68" x2="317.68" y1="173.1" y2="184.9" stroke="#333333" stroke-width="0.5"/>
<rect x="316.36" y="154.1" width="2.64" height="19.00" fill="#619CFF" stroke="#333333" stroke-width="0.3"/>
<line x1="316.34" x2="319.02" y1="164.2" y2="164.2" stroke="#222" stroke-width="0.9"/>
<line x1="319.12" x2="322.00" y1="205.2" y2="205.2" stroke="#0a0a0a" stroke-width="1.15"/>
<circle cx="306.16" cy="183.3" r="1.2" fill="#0a0a0a"/>
<circle cx="306.16" cy="185.1" r="1.2" fill="#0a0a0a"/>
<circle cx="309.04" cy="167.9" r="1.2" fill="#0a0a0a"/>
<circle cx="309.04" cy="189.1" r="1.2" fill="#0a0a0a"/>
<circle cx="311.92" cy="193.8" r="1.2" fill="#0a0a0a"/>
<circle cx="314.80" cy="186.6" r="1.2" fill="#0a0a0a"/>
<circle cx="314.80" cy="197.3" r="1.2" fill="#0a0a0a"/>
<circle cx="317.68" cy="91.3" r="1.2" fill="#0a0a0a"/>
<circle cx="317.68" cy="113.9" r="1.2" fill="#0a0a0a"/>
<line x1="329.19" x2="329.19" y1="85" y2="138.4" stroke="#333333" stroke-width="0.5"/>
<line x1="329.19" x2="329.19" y1="203.5" y2="217.6" stroke="#333333" stroke-width="0.5"/>
<rect x="327.87" y="138.4" width="2.64" height="65.10" fill="#F8766D" stroke="#333333" stroke-width="0.3"/>
<line x1="327.85" x2="330.53" y1="179.2" y2="179.2" stroke="#222" stroke-width="0.9"/>
<line x1="332.07" x2="332.07" y1="38.5" y2="75.8" stroke="#333333" stroke-width="0.5"/>
<line x1="332.07" x2="332.07" y1="192.5" y2="217" stroke="#333333" stroke-width="0.5"/>
<rect x="330.75" y="75.8" width="2.64" height="116.70" fill="#B79F00" stroke="#333333" stroke-width="0.3"/>
<line x1="330.73" x2="333.41" y1="152.1" y2="152.1" stroke="#222" stroke-width="0.9"/>
<line x1="334.95" x2="334.95" y1="14.8" y2="104.8" stroke="#333333" stroke-width="0.5"/>
<line x1="334.95" x2="334.95" y1="179.6" y2="213.7" stroke="#333333" stroke-width="0.5"/>
<rect x="333.63" y="104.8" width="2.64" height="74.80" fill="#00BA38" stroke="#333333" stroke-width="0.3"/>
<line x1="333.61" x2="336.29" y1="152.8" y2="152.8" stroke="#222" stroke-width="0.9"/>
<line x1="337.83" x2="337.83" y1="81" y2="147.6" stroke="#333333" stroke-width="0.5"/>
<line x1="337.83" x2="337.83" y1="195.6" y2="218" stroke="#333333" stroke-width="0.5"/>
<rect x="336.51" y="147.6" width="2.64" height="48.00" fill="#00BFC4" stroke="#333333" stroke-width="0.3"/>
<line x1="336.49" x2="339.17" y1="180.9" y2="180.9" stroke="#222" stroke-width="0.9"/>
<line x1="340.71" x2="340.71" y1="66.9" y2="115.7" stroke="#333333" stroke-width="0.5"/>
<line x1="340.71" x2="340.71" y1="211" y2="213" stroke="#333333" stroke-width="0.5"/>
<rect x="339.39" y="115.7" width="2.64" height="95.30" fill="#619CFF" stroke="#333333" stroke-width="0.3"/>
<line x1="339.37" x2="342.05" y1="148.9" y2="148.9" stroke="#222" stroke-width="0.9"/>
<circle cx="337.83" cy="14.5" r="1.2" fill="#0a0a0a"/>
<circle cx="337.83" cy="30.7" r="1.2" fill="#0a0a0a"/>
<circle cx="337.83" cy="40.6" r="1.2" fill="#0a0a0a"/>
<circle cx="337.83" cy="46.1" r="1.2" fill="#0a0a0a"/>
<line x1="352.22" x2="352.22" y1="81.5" y2="124" stroke="#333333" stroke-width="0.5"/>
<line x1="352.22" x2="352.22" y1="195.3" y2="206.5" stroke="#333333" stroke-width="0.5"/>
<rect x="350.90" y="124" width="2.64" height="71.30" fill="#F8766D" stroke="#333333" stroke-width="0.3"/>
<line x1="350.88" x2="353.56" y1="179.2" y2="179.2" stroke="#222" stroke-width="0.9"/>
<line x1="355.10" x2="355.10" y1="92.6" y2="135.6" stroke="#333333" stroke-width="0.5"/>
<line x1="355.10" x2="355.10" y1="166.5" y2="170" stroke="#333333" stroke-width="0.5"/>
<rect x="353.78" y="135.6" width="2.64" height="30.90" fill="#B79F00" stroke="#333333" stroke-width="0.3"/>
<line x1="353.76" x2="356.44" y1="162.6" y2="162.6" stroke="#222" stroke-width="0.9"/>
<line x1="357.98" x2="357.98" y1="36.9" y2="97" stroke="#333333" stroke-width="0.5"/>
<line x1="357.98" x2="357.98" y1="180.3" y2="201.9" stroke="#333333" stroke-width="0.5"/>
<rect x="356.66" y="97" width="2.64" height="83.30" fill="#00BA38" stroke="#333333" stroke-width="0.3"/>
<line x1="356.64" x2="359.32" y1="149.7" y2="149.7" stroke="#222" stroke-width="0.9"/>
<line x1="360.86" x2="360.86" y1="99.6" y2="153.5" stroke="#333333" stroke-width="0.5"/>
<line x1="360.86" x2="360.86" y1="192.5" y2="213.7" stroke="#333333" stroke-width="0.5"/>
<rect x="359.54" y="153.5" width="2.64" height="39.00" fill="#00BFC4" stroke="#333333" stroke-width="0.3"/>
<line x1="359.52" x2="362.20" y1="173.7" y2="173.7" stroke="#222" stroke-width="0.9"/>
<line x1="363.74" x2="363.74" y1="70" y2="92.5" stroke="#333333" stroke-width="0.5"/>
<line x1="363.74" x2="363.74" y1="177.7" y2="190.1" stroke="#333333" stroke-width="0.5"/>
<rect x="362.42" y="92.5" width="2.64" height="85.20" fill="#619CFF" stroke="#333333" stroke-width="0.3"/>
<line x1="362.40" x2="365.08" y1="148.2" y2="148.2" stroke="#222" stroke-width="0.9"/>
<circle cx="360.86" cy="61.5" r="1.2" fill="#0a0a0a"/>
<circle cx="360.86" cy="70.4" r="1.2" fill="#0a0a0a"/>
<line x1="375.25" x2="375.25" y1="175" y2="190.4" stroke="#333333" stroke-width="0.5"/>
<line x1="375.25" x2="375.25" y1="207.4" y2="217.6" stroke="#333333" stroke-width="0.5"/>
<rect x="373.93" y="190.4" width="2.64" height="17.00" fill="#F8766D" stroke="#333333" stroke-width="0.3"/>
<line x1="373.91" x2="376.59" y1="197.3" y2="197.3" stroke="#222" stroke-width="0.9"/>
<rect x="376.81" y="208" width="2.64" height="2.00" fill="#B79F00" stroke="#333333" stroke-width="0.3"/>
<line x1="376.79" x2="379.47" y1="209" y2="209" stroke="#222" stroke-width="0.9"/>
<line x1="381.01" x2="381.01" y1="155.9" y2="183.3" stroke="#333333" stroke-width="0.5"/>
<line x1="381.01" x2="381.01" y1="205.8" y2="217" stroke="#333333" stroke-width="0.5"/>
<rect x="379.69" y="183.3" width="2.64" height="22.50" fill="#00BA38" stroke="#333333" stroke-width="0.3"/>
<line x1="379.67" x2="382.35" y1="197.6" y2="197.6" stroke="#222" stroke-width="0.9"/>
<line x1="383.89" x2="383.89" y1="172.4" y2="194.3" stroke="#333333" stroke-width="0.5"/>
<line x1="383.89" x2="383.89" y1="210.4" y2="217.6" stroke="#333333" stroke-width="0.5"/>
<rect x="382.57" y="194.3" width="2.64" height="16.10" fill="#00BFC4" stroke="#333333" stroke-width="0.3"/>
<line x1="382.55" x2="385.23" y1="205.2" y2="205.2" stroke="#222" stroke-width="0.9"/>
<line x1="386.77" x2="386.77" y1="171.8" y2="184.2" stroke="#333333" stroke-width="0.5"/>
<line x1="386.77" x2="386.77" y1="206.5" y2="214.3" stroke="#333333" stroke-width="0.5"/>
<rect x="385.45" y="184.2" width="2.64" height="22.30" fill="#619CFF" stroke="#333333" stroke-width="0.3"/>
<line x1="385.43" x2="388.11" y1="194.7" y2="194.7" stroke="#222" stroke-width="0.9"/>
<circle cx="375.25" cy="161" r="1.2" fill="#0a0a0a"/>
<circle cx="375.25" cy="154.1" r="1.2" fill="#0a0a0a"/>
<circle cx="378.13" cy="190.8" r="1.2" fill="#0a0a0a"/>
<circle cx="378.13" cy="214.7" r="1.2" fill="#0a0a0a"/>
<circle cx="381.01" cy="90" r="1.2" fill="#0a0a0a"/>
<circle cx="381.01" cy="109.5" r="1.2" fill="#0a0a0a"/>
<circle cx="381.01" cy="145.1" r="1.2" fill="#0a0a0a"/>
<circle cx="383.89" cy="134.3" r="1.2" fill="#0a0a0a"/>
<circle cx="386.77" cy="137" r="1.2" fill="#0a0a0a"/>
<line x1="398.28" x2="398.28" y1="191.2" y2="200.5" stroke="#333333" stroke-width="0.5"/>
<line x1="398.28" x2="398.28" y1="208.2" y2="212.4" stroke="#333333" stroke-width="0.5"/>
<rect x="396.96" y="200.5" width="2.64" height="7.70" fill="#F8766D" stroke="#333333" stroke-width="0.3"/>
<line x1="396.94" x2="399.62" y1="204.1" y2="204.1" stroke="#222" stroke-width="0.9"/>
<rect x="399.84" y="173" width="2.64" height="3.30" fill="#B79F00" stroke="#333333" stroke-width="0.3"/>
<line x1="399.82" x2="402.50" y1="174.6" y2="174.6" stroke="#222" stroke-width="0.9"/>
<line x1="404.04" x2="404.04" y1="184.6" y2="198.5" stroke="#333333" stroke-width="0.5"/>
<line x1="404.04" x2="404.04" y1="208.7" y2="215.2" stroke="#333333" stroke-width="0.5"/>
<rect x="402.72" y="198.5" width="2.64" height="10.20" fill="#00BA38" stroke="#333333" stroke-width="0.3"/>
<line x1="402.70" x2="405.38" y1="204.1" y2="204.1" stroke="#222" stroke-width="0.9"/>
<line x1="406.92" x2="406.92" y1="202.2" y2="206.9" stroke="#333333" stroke-width="0.5"/>
<line x1="406.92" x2="406.92" y1="213.3" y2="215.2" stroke="#333333" stroke-width="0.5"/>
<rect x="405.60" y="206.9" width="2.64" height="6.40" fill="#00BFC4" stroke="#333333" stroke-width="0.3"/>
<line x1="405.58" x2="408.26" y1="210.6" y2="210.6" stroke="#222" stroke-width="0.9"/>
<line x1="409.80" x2="409.80" y1="139.4" y2="147.7" stroke="#333333" stroke-width="0.5"/>
<line x1="409.80" x2="409.80" y1="168" y2="174.4" stroke="#333333" stroke-width="0.5"/>
<rect x="408.48" y="147.7" width="2.64" height="20.30" fill="#619CFF" stroke="#333333" stroke-width="0.3"/>
<line x1="408.46" x2="411.14" y1="159.6" y2="159.6" stroke="#222" stroke-width="0.9"/>
<line x1="411.24" x2="414.12" y1="171.7" y2="171.7" stroke="#0a0a0a" stroke-width="1.15"/>
<circle cx="398.28" cy="175.2" r="1.2" fill="#0a0a0a"/>
<circle cx="398.28" cy="184.3" r="1.2" fill="#0a0a0a"/>
<circle cx="401.16" cy="164.8" r="1.2" fill="#0a0a0a"/>
<circle cx="401.16" cy="184.1" r="1.2" fill="#0a0a0a"/>
<circle cx="406.92" cy="181.5" r="1.2" fill="#0a0a0a"/>
<circle cx="406.92" cy="194.8" r="1.2" fill="#0a0a0a"/>
<circle cx="406.92" cy="196.3" r="1.2" fill="#0a0a0a"/>
<circle cx="409.80" cy="88.2" r="1.2" fill="#0a0a0a"/>
<circle cx="409.80" cy="112.7" r="1.2" fill="#0a0a0a"/>
</g>
<line x1="20.7" x2="22.9" y1="218.75" y2="218.75" stroke="#333" stroke-width="0.5"/>
<text x="20.0" y="220.84" font-size="5.8" fill="#4D4D4D" text-anchor="end">0.0</text>
<line x1="20.7" x2="22.9" y1="180.25" y2="180.25" stroke="#333" stroke-width="0.5"/>
<text x="20.0" y="182.34" font-size="5.8" fill="#4D4D4D" text-anchor="end">0.1</text>
<line x1="20.7" x2="22.9" y1="141.75" y2="141.75" stroke="#333" stroke-width="0.5"/>
<text x="20.0" y="143.84" font-size="5.8" fill="#4D4D4D" text-anchor="end">0.2</text>
<line x1="20.7" x2="22.9" y1="103.25" y2="103.25" stroke="#333" stroke-width="0.5"/>
<text x="20.0" y="105.34" font-size="5.8" fill="#4D4D4D" text-anchor="end">0.3</text>
<line x1="20.7" x2="22.9" y1="64.75" y2="64.75" stroke="#333" stroke-width="0.5"/>
<text x="20.0" y="66.84" font-size="5.8" fill="#4D4D4D" text-anchor="end">0.4</text>
<line x1="20.7" x2="22.9" y1="26.25" y2="26.25" stroke="#333" stroke-width="0.5"/>
<text x="20.0" y="28.34" font-size="5.8" fill="#4D4D4D" text-anchor="end">0.5</text>
<line x1="37.00" x2="37.00" y1="228.0" y2="230.2" stroke="#333" stroke-width="0.5"/>
<text transform="translate(39.07,247.8) rotate(-90)" font-size="5.75" fill="#4D4D4D" text-anchor="middle">CA</text>
<line x1="60.03" x2="60.03" y1="228.0" y2="230.2" stroke="#333" stroke-width="0.5"/>
<text transform="translate(62.10,247.8) rotate(-90)" font-size="5.75" fill="#4D4D4D" text-anchor="middle">CA G</text>
<line x1="83.06" x2="83.06" y1="228.0" y2="230.2" stroke="#333" stroke-width="0.5"/>
<text transform="translate(85.13,247.8) rotate(-90)" font-size="5.75" fill="#4D4D4D" text-anchor="middle">CA GS</text>
<line x1="106.09" x2="106.09" y1="228.0" y2="230.2" stroke="#333" stroke-width="0.5"/>
<text transform="translate(108.16,247.8) rotate(-90)" font-size="5.75" fill="#4D4D4D" text-anchor="middle">Total CA</text>
<line x1="129.12" x2="129.12" y1="228.0" y2="230.2" stroke="#333" stroke-width="0.5"/>
<text transform="translate(131.19,247.8) rotate(-90)" font-size="5.75" fill="#4D4D4D" text-anchor="middle">DHPAA</text>
<line x1="152.15" x2="152.15" y1="228.0" y2="230.2" stroke="#333" stroke-width="0.5"/>
<text transform="translate(154.22,247.8) rotate(-90)" font-size="5.75" fill="#4D4D4D" text-anchor="middle">DHPAA G</text>
<line x1="175.18" x2="175.18" y1="228.0" y2="230.2" stroke="#333" stroke-width="0.5"/>
<text transform="translate(177.25,247.8) rotate(-90)" font-size="5.75" fill="#4D4D4D" text-anchor="middle">DHPAA GS</text>
<line x1="198.21" x2="198.21" y1="228.0" y2="230.2" stroke="#333" stroke-width="0.5"/>
<text transform="translate(200.28,247.8) rotate(-90)" font-size="5.75" fill="#4D4D4D" text-anchor="middle">DHPAA SS</text>
<line x1="221.24" x2="221.24" y1="228.0" y2="230.2" stroke="#333" stroke-width="0.5"/>
<text transform="translate(223.31,247.8) rotate(-90)" font-size="5.75" fill="#4D4D4D" text-anchor="middle">Total DHPAA</text>
<line x1="244.27" x2="244.27" y1="228.0" y2="230.2" stroke="#333" stroke-width="0.5"/>
<text transform="translate(246.34,247.8) rotate(-90)" font-size="5.75" fill="#4D4D4D" text-anchor="middle">TFA G</text>
<line x1="267.30" x2="267.30" y1="228.0" y2="230.2" stroke="#333" stroke-width="0.5"/>
<text transform="translate(269.37,247.8) rotate(-90)" font-size="5.75" fill="#4D4D4D" text-anchor="middle">TFA S</text>
<line x1="290.33" x2="290.33" y1="228.0" y2="230.2" stroke="#333" stroke-width="0.5"/>
<text transform="translate(292.40,247.8) rotate(-90)" font-size="5.75" fill="#4D4D4D" text-anchor="middle">Total TFA</text>
<line x1="313.36" x2="313.36" y1="228.0" y2="230.2" stroke="#333" stroke-width="0.5"/>
<text transform="translate(315.43,247.8) rotate(-90)" font-size="5.75" fill="#4D4D4D" text-anchor="middle">VA</text>
<line x1="336.39" x2="336.39" y1="228.0" y2="230.2" stroke="#333" stroke-width="0.5"/>
<text transform="translate(338.46,247.8) rotate(-90)" font-size="5.75" fill="#4D4D4D" text-anchor="middle">VA GG</text>
<line x1="359.42" x2="359.42" y1="228.0" y2="230.2" stroke="#333" stroke-width="0.5"/>
<text transform="translate(361.49,247.8) rotate(-90)" font-size="5.75" fill="#4D4D4D" text-anchor="middle">VA GS</text>
<line x1="382.45" x2="382.45" y1="228.0" y2="230.2" stroke="#333" stroke-width="0.5"/>
<text transform="translate(384.52,247.8) rotate(-90)" font-size="5.75" fill="#4D4D4D" text-anchor="middle">VA SS</text>
<line x1="405.48" x2="405.48" y1="228.0" y2="230.2" stroke="#333" stroke-width="0.5"/>
<text transform="translate(407.55,247.8) rotate(-90)" font-size="5.75" fill="#4D4D4D" text-anchor="middle">Total VA</text>
<text transform="translate(8.6,120.25) rotate(-90)" font-size="6.8" fill="#222" text-anchor="middle">Standarized Value</text>
<text x="214.70" y="271.9" font-size="4.7" font-weight="bold" fill="#111" text-anchor="middle">Bioactive Metabolites</text>
<text x="22.5" y="9.3" font-size="8.68" fill="#000">A. Concentrations of (Poly)phenols Metabolites at Initial Time</text>
<text x="430.1" y="89.6" font-size="6.45" fill="#111">Cluster</text>
<line x1="434.90000000000003" x2="434.90000000000003" y1="95.49" y2="102.71" stroke="#333" stroke-width="0.5"/>
<rect x="431.0" y="96.52" width="7.8" height="5.16" fill="#F8766D" stroke="#333" stroke-width="0.45"/>
<line x1="431.0" x2="438.80000000000007" y1="99.1" y2="99.1" stroke="#333" stroke-width="0.5"/>
<text x="444.50000000000006" y="101.12" font-size="5.6" fill="#111">1</text>
<line x1="434.90000000000003" x2="434.90000000000003" y1="106.21" y2="113.43" stroke="#333" stroke-width="0.5"/>
<rect x="431.0" y="107.24" width="7.8" height="5.16" fill="#B79F00" stroke="#333" stroke-width="0.45"/>
<line x1="431.0" x2="438.80000000000007" y1="109.82" y2="109.82" stroke="#333" stroke-width="0.5"/>
<text x="444.50000000000006" y="111.84" font-size="5.6" fill="#111">2</text>
<line x1="434.90000000000003" x2="434.90000000000003" y1="116.93" y2="124.15" stroke="#333" stroke-width="0.5"/>
<rect x="431.0" y="117.96" width="7.8" height="5.16" fill="#00BA38" stroke="#333" stroke-width="0.45"/>
<line x1="431.0" x2="438.80000000000007" y1="120.53999999999999" y2="120.53999999999999" stroke="#333" stroke-width="0.5"/>
<text x="444.50000000000006" y="122.56" font-size="5.6" fill="#111">3</text>
<line x1="434.90000000000003" x2="434.90000000000003" y1="127.65" y2="134.87" stroke="#333" stroke-width="0.5"/>
<rect x="431.0" y="128.68" width="7.8" height="5.16" fill="#00BFC4" stroke="#333" stroke-width="0.45"/>
<line x1="431.0" x2="438.80000000000007" y1="131.26" y2="131.26" stroke="#333" stroke-width="0.5"/>
<text x="444.50000000000006" y="133.28" font-size="5.6" fill="#111">4</text>
<line x1="434.90000000000003" x2="434.90000000000003" y1="138.37" y2="145.59" stroke="#333" stroke-width="0.5"/>
<rect x="431.0" y="139.40" width="7.8" height="5.16" fill="#619CFF" stroke="#333" stroke-width="0.45"/>
<line x1="431.0" x2="438.80000000000007" y1="141.98" y2="141.98" stroke="#333" stroke-width="0.5"/>
<text x="444.50000000000006" y="144.00" font-size="5.6" fill="#111">5</text>
<line x1="434.90000000000003" x2="434.90000000000003" y1="149.09" y2="156.31" stroke="#333" stroke-width="0.5"/>
<rect x="431.0" y="150.12" width="7.8" height="5.16" fill="#F564E3" stroke="#333" stroke-width="0.45"/>
<line x1="431.0" x2="438.80000000000007" y1="152.7" y2="152.7" stroke="#333" stroke-width="0.5"/>
<text x="444.50000000000006" y="154.72" font-size="5.6" fill="#111">6</text>
<rect x="388.8" y="28.400000000000002" width="68.60" height="11.20" fill="#fff" fill-opacity="0.7"/>
<rect x="376.40000000000003" y="40.1" width="81.00" height="11.20" fill="#fff" fill-opacity="0.7"/>
<rect x="376.40000000000003" y="51.9" width="81.00" height="11.20" fill="#fff" fill-opacity="0.7"/>
<rect x="388.95" y="28.60" width="8.70" height="10.80" fill="#CDCDCD"/>
<text x="393.30" y="36.02" font-size="5.6" fill="#000" text-anchor="middle" font-weight="bold">1</text>
<rect x="398.75" y="28.60" width="8.70" height="10.80" fill="#CDCDCD"/>
<text x="403.10" y="36.02" font-size="5.6" fill="#000" text-anchor="middle" font-weight="bold">2</text>
<rect x="408.45" y="28.60" width="11.70" height="10.80" fill="#CDCDCD"/>
<text x="414.30" y="36.02" font-size="5.6" fill="#000" text-anchor="middle" font-weight="bold">3</text>
<rect x="421.65" y="28.60" width="12.20" height="10.80" fill="#CDCDCD"/>
<text x="427.75" y="36.02" font-size="5.6" fill="#000" text-anchor="middle" font-weight="bold">4</text>
<rect x="435.35" y="28.60" width="11.60" height="10.80" fill="#CDCDCD"/>
<text x="441.15" y="36.02" font-size="5.6" fill="#000" text-anchor="middle" font-weight="bold">5</text>
<rect x="448.05" y="28.60" width="9.20" height="10.80" fill="#CDCDCD"/>
<text x="452.65" y="36.02" font-size="5.6" fill="#000" text-anchor="middle" font-weight="bold">6</text>
<rect x="376.55" y="40.30" width="11.70" height="10.80" fill="#F2F2F2"/>
<text x="387.60" y="47.72" font-size="5.6" fill="#111" text-anchor="end" font-style="italic">M</text>
<rect x="388.95" y="40.30" width="8.70" height="10.80" fill="#F3F3F3"/>
<text x="393.30" y="47.72" font-size="5.6" fill="#111" text-anchor="middle">8</text>
<rect x="398.75" y="40.30" width="8.70" height="10.80" fill="#F3F3F3"/>
<text x="403.10" y="47.72" font-size="5.6" fill="#111" text-anchor="middle">2</text>
<rect x="408.45" y="40.30" width="11.70" height="10.80" fill="#F3F3F3"/>
<text x="414.30" y="47.72" font-size="5.6" fill="#111" text-anchor="middle">27</text>
<rect x="421.65" y="40.30" width="12.20" height="10.80" fill="#F3F3F3"/>
<text x="427.75" y="47.72" font-size="5.6" fill="#111" text-anchor="middle">23</text>
<rect x="435.35" y="40.30" width="11.60" height="10.80" fill="#F3F3F3"/>
<text x="441.15" y="47.72" font-size="5.6" fill="#111" text-anchor="middle">10</text>
<rect x="448.05" y="40.30" width="9.20" height="10.80" fill="#F3F3F3"/>
<text x="452.65" y="47.72" font-size="5.6" fill="#111" text-anchor="middle">1</text>
<rect x="376.55" y="52.10" width="11.70" height="10.80" fill="#F2F2F2"/>
<text x="387.60" y="59.52" font-size="5.6" fill="#111" text-anchor="end" font-style="italic">W</text>
<rect x="388.95" y="52.10" width="8.70" height="10.80" fill="#E7E7E7"/>
<text x="393.30" y="59.52" font-size="5.6" fill="#111" text-anchor="middle">6</text>
<rect x="398.75" y="52.10" width="8.70" height="10.80" fill="#E7E7E7"/>
<text x="403.10" y="59.52" font-size="5.6" fill="#111" text-anchor="middle">3</text>
<rect x="408.45" y="52.10" width="11.70" height="10.80" fill="#E7E7E7"/>
<text x="414.30" y="59.52" font-size="5.6" fill="#111" text-anchor="middle">21</text>
<rect x="421.65" y="52.10" width="12.20" height="10.80" fill="#E7E7E7"/>
<text x="427.75" y="59.52" font-size="5.6" fill="#111" text-anchor="middle">20</text>
<rect x="435.35" y="52.10" width="11.60" height="10.80" fill="#E7E7E7"/>
<text x="441.15" y="59.52" font-size="5.6" fill="#111" text-anchor="middle">4</text>
<rect x="448.05" y="52.10" width="9.20" height="10.80" fill="#E7E7E7"/>
<text x="452.65" y="59.52" font-size="5.6" fill="#111" text-anchor="middle">0</text>
<clipPath id="cpB"><rect x="31.5" y="297.3" width="379.8" height="207.09999999999997"/></clipPath>
<rect x="31.5" y="297.3" width="379.8" height="207.09999999999997" fill="#EBEBEB"/>
<line x1="31.5" x2="411.3" y1="460.6" y2="460.6" stroke="#fff" stroke-width="0.35"/>
<line x1="31.5" x2="411.3" y1="390.2" y2="390.2" stroke="#fff" stroke-width="0.35"/>
<line x1="31.5" x2="411.3" y1="319.8" y2="319.8" stroke="#fff" stroke-width="0.35"/>
<line x1="31.5" x2="411.3" y1="495.75" y2="495.75" stroke="#fff" stroke-width="0.7"/>
<line x1="31.5" x2="411.3" y1="425.4" y2="425.4" stroke="#fff" stroke-width="0.7"/>
<line x1="31.5" x2="411.3" y1="355.0" y2="355.0" stroke="#fff" stroke-width="0.7"/>
<line x1="44.75" x2="44.75" y1="297.3" y2="504.4" stroke="#fff" stroke-width="0.7"/>
<line x1="66.83" x2="66.83" y1="297.3" y2="504.4" stroke="#fff" stroke-width="0.7"/>
<line x1="88.91" x2="88.91" y1="297.3" y2="504.4" stroke="#fff" stroke-width="0.7"/>
<line x1="110.99" x2="110.99" y1="297.3" y2="504.4" stroke="#fff" stroke-width="0.7"/>
<line x1="133.07" x2="133.07" y1="297.3" y2="504.4" stroke="#fff" stroke-width="0.7"/>
<line x1="155.15" x2="155.15" y1="297.3" y2="504.4" stroke="#fff" stroke-width="0.7"/>
<line x1="177.23" x2="177.23" y1="297.3" y2="504.4" stroke="#fff" stroke-width="0.7"/>
<line x1="199.31" x2="199.31" y1="297.3" y2="504.4" stroke="#fff" stroke-width="0.7"/>
<line x1="221.39" x2="221.39" y1="297.3" y2="504.4" stroke="#fff" stroke-width="0.7"/>
<line x1="243.47" x2="243.47" y1="297.3" y2="504.4" stroke="#fff" stroke-width="0.7"/>
<line x1="265.55" x2="265.55" y1="297.3" y2="504.4" stroke="#fff" stroke-width="0.7"/>
<line x1="287.63" x2="287.63" y1="297.3" y2="504.4" stroke="#fff" stroke-width="0.7"/>
<line x1="309.71" x2="309.71" y1="297.3" y2="504.4" stroke="#fff" stroke-width="0.7"/>
<line x1="331.79" x2="331.79" y1="297.3" y2="504.4" stroke="#fff" stroke-width="0.7"/>
<line x1="353.87" x2="353.87" y1="297.3" y2="504.4" stroke="#fff" stroke-width="0.7"/>
<line x1="375.95" x2="375.95" y1="297.3" y2="504.4" stroke="#fff" stroke-width="0.7"/>
<line x1="398.03" x2="398.03" y1="297.3" y2="504.4" stroke="#fff" stroke-width="0.7"/>
<g clip-path="url(#cpB)">
<line x1="37.85" x2="37.85" y1="465.4" y2="480.2" stroke="#333333" stroke-width="0.5"/>
<line x1="37.85" x2="37.85" y1="491.9" y2="493.2" stroke="#333333" stroke-width="0.5"/>
<rect x="36.59" y="480.2" width="2.52" height="11.70" fill="#F8766D" stroke="#333333" stroke-width="0.3"/>
<line x1="36.57" x2="39.13" y1="486.3" y2="486.3" stroke="#222" stroke-width="0.9"/>
<line x1="40.61" x2="40.61" y1="468.4" y2="477.5" stroke="#333333" stroke-width="0.5"/>
<line x1="40.61" x2="40.61" y1="484.5" y2="487.4" stroke="#333333" stroke-width="0.5"/>
<rect x="39.35" y="477.5" width="2.52" height="7.00" fill="#B79F00" stroke="#333333" stroke-width="0.3"/>
<line x1="39.33" x2="41.89" y1="480.8" y2="480.8" stroke="#222" stroke-width="0.9"/>
<line x1="43.37" x2="43.37" y1="465.8" y2="472.3" stroke="#333333" stroke-width="0.5"/>
<line x1="43.37" x2="43.37" y1="480.2" y2="488.7" stroke="#333333" stroke-width="0.5"/>
<rect x="42.11" y="472.3" width="2.52" height="7.90" fill="#00BA38" stroke="#333333" stroke-width="0.3"/>
<line x1="42.09" x2="44.65" y1="476.6" y2="476.6" stroke="#222" stroke-width="0.9"/>
<line x1="46.13" x2="46.13" y1="464.1" y2="474.3" stroke="#333333" stroke-width="0.5"/>
<line x1="46.13" x2="46.13" y1="485.8" y2="493.2" stroke="#333333" stroke-width="0.5"/>
<rect x="44.87" y="474.3" width="2.52" height="11.50" fill="#00BFC4" stroke="#333333" stroke-width="0.3"/>
<line x1="44.85" x2="47.41" y1="481.1" y2="481.1" stroke="#222" stroke-width="0.9"/>
<line x1="48.89" x2="48.89" y1="482" y2="484.7" stroke="#333333" stroke-width="0.5"/>
<line x1="48.89" x2="48.89" y1="490.6" y2="494.6" stroke="#333333" stroke-width="0.5"/>
<rect x="47.63" y="484.7" width="2.52" height="5.90" fill="#619CFF" stroke="#333333" stroke-width="0.3"/>
<line x1="47.61" x2="50.17" y1="487.4" y2="487.4" stroke="#222" stroke-width="0.9"/>
<line x1="51.65" x2="51.65" y1="469.3" y2="479.5" stroke="#333333" stroke-width="0.5"/>
<line x1="51.65" x2="51.65" y1="491.5" y2="494.6" stroke="#333333" stroke-width="0.5"/>
<rect x="50.39" y="479.5" width="2.52" height="12.00" fill="#F564E3" stroke="#333333" stroke-width="0.3"/>
<line x1="50.37" x2="52.93" y1="485" y2="485" stroke="#222" stroke-width="0.9"/>
<circle cx="37.85" cy="443.9" r="1.2" fill="#0a0a0a"/>
<circle cx="37.85" cy="447" r="1.2" fill="#0a0a0a"/>
<circle cx="37.85" cy="408.8" r="1.2" fill="#0a0a0a"/>
<circle cx="40.61" cy="380.7" r="1.2" fill="#0a0a0a"/>
<circle cx="40.61" cy="405.5" r="1.2" fill="#0a0a0a"/>
<circle cx="43.37" cy="443.9" r="1.2" fill="#0a0a0a"/>
<circle cx="46.13" cy="402" r="1.2" fill="#0a0a0a"/>
<circle cx="48.89" cy="473.6" r="1.2" fill="#0a0a0a"/>
<line x1="59.93" x2="59.93" y1="430.4" y2="455.7" stroke="#333333" stroke-width="0.5"/>
<line x1="59.93" x2="59.93" y1="478.5" y2="490.6" stroke="#333333" stroke-width="0.5"/>
<rect x="58.67" y="455.7" width="2.52" height="22.80" fill="#F8766D" stroke="#333333" stroke-width="0.3"/>
<line x1="58.65" x2="61.21" y1="468.4" y2="468.4" stroke="#222" stroke-width="0.9"/>
<line x1="62.69" x2="62.69" y1="407.5" y2="445.2" stroke="#333333" stroke-width="0.5"/>
<line x1="62.69" x2="62.69" y1="476.2" y2="491.3" stroke="#333333" stroke-width="0.5"/>
<rect x="61.43" y="445.2" width="2.52" height="31.00" fill="#B79F00" stroke="#333333" stroke-width="0.3"/>
<line x1="61.41" x2="63.97" y1="454.9" y2="454.9" stroke="#222" stroke-width="0.9"/>
<line x1="65.45" x2="65.45" y1="341" y2="395.1" stroke="#333333" stroke-width="0.5"/>
<line x1="65.45" x2="65.45" y1="444.4" y2="466.4" stroke="#333333" stroke-width="0.5"/>
<rect x="64.19" y="395.1" width="2.52" height="49.30" fill="#00BA38" stroke="#333333" stroke-width="0.3"/>
<line x1="64.17" x2="66.73" y1="434.3" y2="434.3" stroke="#222" stroke-width="0.9"/>
<line x1="68.21" x2="68.21" y1="459.2" y2="470.6" stroke="#333333" stroke-width="0.5"/>
<line x1="68.21" x2="68.21" y1="482.8" y2="484.1" stroke="#333333" stroke-width="0.5"/>
<rect x="66.95" y="470.6" width="2.52" height="12.20" fill="#00BFC4" stroke="#333333" stroke-width="0.3"/>
<line x1="66.93" x2="69.49" y1="474.3" y2="474.3" stroke="#222" stroke-width="0.9"/>
<line x1="70.97" x2="70.97" y1="484.1" y2="487.1" stroke="#333333" stroke-width="0.5"/>
<line x1="70.97" x2="70.97" y1="491.5" y2="492.6" stroke="#333333" stroke-width="0.5"/>
<rect x="69.71" y="487.1" width="2.52" height="4.40" fill="#619CFF" stroke="#333333" stroke-width="0.3"/>
<line x1="69.69" x2="72.25" y1="488.9" y2="488.9" stroke="#222" stroke-width="0.9"/>
<line x1="73.73" x2="73.73" y1="451.8" y2="458.3" stroke="#333333" stroke-width="0.5"/>
<line x1="73.73" x2="73.73" y1="479.2" y2="494.6" stroke="#333333" stroke-width="0.5"/>
<rect x="72.47" y="458.3" width="2.52" height="20.90" fill="#F564E3" stroke="#333333" stroke-width="0.3"/>
<line x1="72.45" x2="75.01" y1="469.7" y2="469.7" stroke="#222" stroke-width="0.9"/>
<circle cx="70.97" cy="480.2" r="1.2" fill="#0a0a0a"/>
<line x1="80.8" x2="97.5" y1="494.4" y2="494.4" stroke="#0a0a0a" stroke-width="1.1"/>
<circle cx="81.7" cy="489.7" r="0.85" fill="#0a0a0a"/>
<circle cx="81.7" cy="491.3" r="0.85" fill="#0a0a0a"/>
<circle cx="84.4" cy="491.4" r="0.85" fill="#0a0a0a"/>
<circle cx="86.3" cy="491.4" r="0.85" fill="#0a0a0a"/>
<circle cx="87.9" cy="491.4" r="0.85" fill="#0a0a0a"/>
<circle cx="89.9" cy="491.1" r="0.85" fill="#0a0a0a"/>
<circle cx="92.1" cy="491.4" r="0.85" fill="#0a0a0a"/>
<circle cx="93.8" cy="491.6" r="0.85" fill="#0a0a0a"/>
<circle cx="96.1" cy="490.6" r="0.85" fill="#0a0a0a"/>
<line x1="104.09" x2="104.09" y1="299.6" y2="317.3" stroke="#333333" stroke-width="0.5"/>
<rect x="102.83" y="280" width="2.52" height="19.60" fill="#F8766D" stroke="#333333" stroke-width="0.3"/>
<line x1="112.37" x2="112.37" y1="357.2" y2="389.8" stroke="#333333" stroke-width="0.5"/>
<line x1="112.37" x2="112.37" y1="416.7" y2="444.8" stroke="#333333" stroke-width="0.5"/>
<rect x="111.11" y="389.8" width="2.52" height="26.90" fill="#00BFC4" stroke="#333333" stroke-width="0.3"/>
<line x1="111.09" x2="113.65" y1="404.6" y2="404.6" stroke="#222" stroke-width="0.9"/>
<line x1="115.13" x2="115.13" y1="425.6" y2="440.9" stroke="#333333" stroke-width="0.5"/>
<line x1="115.13" x2="115.13" y1="469.7" y2="485.4" stroke="#333333" stroke-width="0.5"/>
<rect x="113.87" y="440.9" width="2.52" height="28.80" fill="#619CFF" stroke="#333333" stroke-width="0.3"/>
<line x1="113.85" x2="116.41" y1="462.2" y2="462.2" stroke="#222" stroke-width="0.9"/>
<line x1="117.89" x2="117.89" y1="331.6" y2="348" stroke="#333333" stroke-width="0.5"/>
<line x1="117.89" x2="117.89" y1="391.5" y2="415.4" stroke="#333333" stroke-width="0.5"/>
<rect x="116.63" y="348" width="2.52" height="43.50" fill="#F564E3" stroke="#333333" stroke-width="0.3"/>
<line x1="116.61" x2="119.17" y1="369.3" y2="369.3" stroke="#222" stroke-width="0.9"/>
<line x1="126.17" x2="126.17" y1="403.6" y2="437.6" stroke="#333333" stroke-width="0.5"/>
<line x1="126.17" x2="126.17" y1="480.2" y2="495.5" stroke="#333333" stroke-width="0.5"/>
<rect x="124.91" y="437.6" width="2.52" height="42.60" fill="#F8766D" stroke="#333333" stroke-width="0.3"/>
<line x1="124.89" x2="127.45" y1="454.9" y2="454.9" stroke="#222" stroke-width="0.9"/>
<line x1="128.93" x2="128.93" y1="317.5" y2="356.3" stroke="#333333" stroke-width="0.5"/>
<line x1="128.93" x2="128.93" y1="434.8" y2="475.6" stroke="#333333" stroke-width="0.5"/>
<rect x="127.67" y="356.3" width="2.52" height="78.50" fill="#B79F00" stroke="#333333" stroke-width="0.3"/>
<line x1="127.65" x2="130.21" y1="383.3" y2="383.3" stroke="#222" stroke-width="0.9"/>
<line x1="131.69" x2="131.69" y1="359" y2="395.7" stroke="#333333" stroke-width="0.5"/>
<line x1="131.69" x2="131.69" y1="434.8" y2="483.4" stroke="#333333" stroke-width="0.5"/>
<rect x="130.43" y="395.7" width="2.52" height="39.10" fill="#00BA38" stroke="#333333" stroke-width="0.3"/>
<line x1="130.41" x2="132.97" y1="416.4" y2="416.4" stroke="#222" stroke-width="0.9"/>
<line x1="134.45" x2="134.45" y1="357.8" y2="392.5" stroke="#333333" stroke-width="0.5"/>
<line x1="134.45" x2="134.45" y1="427.8" y2="455.3" stroke="#333333" stroke-width="0.5"/>
<rect x="133.19" y="392.5" width="2.52" height="35.30" fill="#00BFC4" stroke="#333333" stroke-width="0.3"/>
<line x1="133.17" x2="135.73" y1="416.9" y2="416.9" stroke="#222" stroke-width="0.9"/>
<line x1="137.21" x2="137.21" y1="403.6" y2="447" stroke="#333333" stroke-width="0.5"/>
<line x1="137.21" x2="137.21" y1="480.5" y2="491.3" stroke="#333333" stroke-width="0.5"/>
<rect x="135.95" y="447" width="2.52" height="33.50" fill="#619CFF" stroke="#333333" stroke-width="0.3"/>
<line x1="135.93" x2="138.49" y1="454.4" y2="454.4" stroke="#222" stroke-width="0.9"/>
<line x1="139.97" x2="139.97" y1="427.8" y2="458.8" stroke="#333333" stroke-width="0.5"/>
<line x1="139.97" x2="139.97" y1="480.5" y2="492.6" stroke="#333333" stroke-width="0.5"/>
<rect x="138.71" y="458.8" width="2.52" height="21.70" fill="#F564E3" stroke="#333333" stroke-width="0.3"/>
<line x1="138.69" x2="141.25" y1="472.3" y2="472.3" stroke="#222" stroke-width="0.9"/>
<circle cx="126.17" cy="307" r="1.2" fill="#0a0a0a"/>
<circle cx="137.21" cy="390.7" r="1.2" fill="#0a0a0a"/>
<circle cx="137.21" cy="393.8" r="1.2" fill="#0a0a0a"/>
<line x1="148.25" x2="148.25" y1="421.9" y2="455.9" stroke="#333333" stroke-width="0.5"/>
<line x1="148.25" x2="148.25" y1="481.9" y2="493.9" stroke="#333333" stroke-width="0.5"/>
<rect x="146.99" y="455.9" width="2.52" height="26.00" fill="#F8766D" stroke="#333333" stroke-width="0.3"/>
<line x1="146.97" x2="149.53" y1="471.4" y2="471.4" stroke="#222" stroke-width="0.9"/>
<line x1="151.01" x2="151.01" y1="388.5" y2="427.1" stroke="#333333" stroke-width="0.5"/>
<line x1="151.01" x2="151.01" y1="480.2" y2="493.9" stroke="#333333" stroke-width="0.5"/>
<rect x="149.75" y="427.1" width="2.52" height="53.10" fill="#B79F00" stroke="#333333" stroke-width="0.3"/>
<line x1="149.73" x2="152.29" y1="455.3" y2="455.3" stroke="#222" stroke-width="0.9"/>
<line x1="153.77" x2="153.77" y1="438.9" y2="458.8" stroke="#333333" stroke-width="0.5"/>
<line x1="153.77" x2="153.77" y1="484.7" y2="490" stroke="#333333" stroke-width="0.5"/>
<rect x="152.51" y="458.8" width="2.52" height="25.90" fill="#00BA38" stroke="#333333" stroke-width="0.3"/>
<line x1="152.49" x2="155.05" y1="472.3" y2="472.3" stroke="#222" stroke-width="0.9"/>
<line x1="156.53" x2="156.53" y1="442.9" y2="467.1" stroke="#333333" stroke-width="0.5"/>
<line x1="156.53" x2="156.53" y1="486.7" y2="491.3" stroke="#333333" stroke-width="0.5"/>
<rect x="155.27" y="467.1" width="2.52" height="19.60" fill="#00BFC4" stroke="#333333" stroke-width="0.3"/>
<line x1="155.25" x2="157.81" y1="481.1" y2="481.1" stroke="#222" stroke-width="0.9"/>
<line x1="159.29" x2="159.29" y1="470" y2="479.5" stroke="#333333" stroke-width="0.5"/>
<line x1="159.29" x2="159.29" y1="490.6" y2="493.2" stroke="#333333" stroke-width="0.5"/>
<rect x="158.03" y="479.5" width="2.52" height="11.10" fill="#619CFF" stroke="#333333" stroke-width="0.3"/>
<line x1="158.01" x2="160.57" y1="486.7" y2="486.7" stroke="#222" stroke-width="0.9"/>
<line x1="162.05" x2="162.05" y1="429.8" y2="459.6" stroke="#333333" stroke-width="0.5"/>
<line x1="162.05" x2="162.05" y1="488" y2="495.2" stroke="#333333" stroke-width="0.5"/>
<rect x="160.79" y="459.6" width="2.52" height="28.40" fill="#F564E3" stroke="#333333" stroke-width="0.3"/>
<line x1="160.77" x2="163.33" y1="480.2" y2="480.2" stroke="#222" stroke-width="0.9"/>
<circle cx="148.25" cy="394.2" r="1.2" fill="#0a0a0a"/>
<circle cx="148.25" cy="413.4" r="1.2" fill="#0a0a0a"/>
<circle cx="156.53" cy="379.4" r="1.2" fill="#0a0a0a"/>
<circle cx="156.53" cy="420.3" r="1.2" fill="#0a0a0a"/>
<circle cx="159.29" cy="442.9" r="1.2" fill="#0a0a0a"/>
<circle cx="162.05" cy="395.1" r="1.2" fill="#0a0a0a"/>
<circle cx="162.05" cy="355.2" r="1.2" fill="#0a0a0a"/>
<line x1="170.33" x2="170.33" y1="314" y2="393.4" stroke="#333333" stroke-width="0.5"/>
<line x1="170.33" x2="170.33" y1="465.4" y2="482.8" stroke="#333333" stroke-width="0.5"/>
<rect x="169.07" y="393.4" width="2.52" height="72.00" fill="#F8766D" stroke="#333333" stroke-width="0.3"/>
<line x1="169.05" x2="171.61" y1="443.5" y2="443.5" stroke="#222" stroke-width="0.9"/>
<line x1="173.09" x2="173.09" y1="334" y2="377.4" stroke="#333333" stroke-width="0.5"/>
<line x1="173.09" x2="173.09" y1="455.7" y2="491.3" stroke="#333333" stroke-width="0.5"/>
<rect x="171.83" y="377.4" width="2.52" height="78.30" fill="#B79F00" stroke="#333333" stroke-width="0.3"/>
<line x1="171.81" x2="174.37" y1="413.4" y2="413.4" stroke="#222" stroke-width="0.9"/>
<line x1="175.85" x2="175.85" y1="305.5" y2="333" stroke="#333333" stroke-width="0.5"/>
<line x1="175.85" x2="175.85" y1="458.3" y2="473" stroke="#333333" stroke-width="0.5"/>
<rect x="174.59" y="333" width="2.52" height="125.30" fill="#00BA38" stroke="#333333" stroke-width="0.3"/>
<line x1="174.57" x2="177.13" y1="388.1" y2="388.1" stroke="#222" stroke-width="0.9"/>
<line x1="178.61" x2="178.61" y1="394.4" y2="443.5" stroke="#333333" stroke-width="0.5"/>
<line x1="178.61" x2="178.61" y1="480.8" y2="493.2" stroke="#333333" stroke-width="0.5"/>
<rect x="177.35" y="443.5" width="2.52" height="37.30" fill="#00BFC4" stroke="#333333" stroke-width="0.3"/>
<line x1="177.33" x2="179.89" y1="463.1" y2="463.1" stroke="#222" stroke-width="0.9"/>
<line x1="181.37" x2="181.37" y1="392" y2="443.5" stroke="#333333" stroke-width="0.5"/>
<line x1="181.37" x2="181.37" y1="476.9" y2="494.6" stroke="#333333" stroke-width="0.5"/>
<rect x="180.11" y="443.5" width="2.52" height="33.40" fill="#619CFF" stroke="#333333" stroke-width="0.3"/>
<line x1="180.09" x2="182.65" y1="461.2" y2="461.2" stroke="#222" stroke-width="0.9"/>
<line x1="184.13" x2="184.13" y1="385.3" y2="431.7" stroke="#333333" stroke-width="0.5"/>
<line x1="184.13" x2="184.13" y1="471.6" y2="495.2" stroke="#333333" stroke-width="0.5"/>
<rect x="182.87" y="431.7" width="2.52" height="39.90" fill="#F564E3" stroke="#333333" stroke-width="0.3"/>
<line x1="182.85" x2="185.41" y1="451.4" y2="451.4" stroke="#222" stroke-width="0.9"/>
<circle cx="178.61" cy="330.3" r="1.2" fill="#0a0a0a"/>
<circle cx="181.37" cy="380" r="1.2" fill="#0a0a0a"/>
<circle cx="181.37" cy="387.2" r="1.2" fill="#0a0a0a"/>
<line x1="192.41" x2="192.41" y1="454" y2="472.3" stroke="#333333" stroke-width="0.5"/>
<line x1="192.41" x2="192.41" y1="488" y2="494.6" stroke="#333333" stroke-width="0.5"/>
<rect x="191.15" y="472.3" width="2.52" height="15.70" fill="#F8766D" stroke="#333333" stroke-width="0.3"/>
<line x1="191.13" x2="193.69" y1="483.4" y2="483.4" stroke="#222" stroke-width="0.9"/>
<line x1="195.17" x2="195.17" y1="447.4" y2="456.6" stroke="#333333" stroke-width="0.5"/>
<line x1="195.17" x2="195.17" y1="476.2" y2="485.4" stroke="#333333" stroke-width="0.5"/>
<rect x="193.91" y="456.6" width="2.52" height="19.60" fill="#B79F00" stroke="#333333" stroke-width="0.3"/>
<line x1="193.89" x2="196.45" y1="466.2" y2="466.2" stroke="#222" stroke-width="0.9"/>
<line x1="197.93" x2="197.93" y1="455" y2="463.1" stroke="#333333" stroke-width="0.5"/>
<line x1="197.93" x2="197.93" y1="478.8" y2="488" stroke="#333333" stroke-width="0.5"/>
<rect x="196.67" y="463.1" width="2.52" height="15.70" fill="#00BA38" stroke="#333333" stroke-width="0.3"/>
<line x1="196.65" x2="199.21" y1="472.7" y2="472.7" stroke="#222" stroke-width="0.9"/>
<line x1="200.69" x2="200.69" y1="458.6" y2="473" stroke="#333333" stroke-width="0.5"/>
<line x1="200.69" x2="200.69" y1="490.6" y2="493" stroke="#333333" stroke-width="0.5"/>
<rect x="199.43" y="473" width="2.52" height="17.60" fill="#00BFC4" stroke="#333333" stroke-width="0.3"/>
<line x1="199.41" x2="201.97" y1="483.4" y2="483.4" stroke="#222" stroke-width="0.9"/>
<line x1="203.45" x2="203.45" y1="460.5" y2="476.9" stroke="#333333" stroke-width="0.5"/>
<line x1="203.45" x2="203.45" y1="488" y2="493.5" stroke="#333333" stroke-width="0.5"/>
<rect x="202.19" y="476.9" width="2.52" height="11.10" fill="#619CFF" stroke="#333333" stroke-width="0.3"/>
<line x1="202.17" x2="204.73" y1="483.2" y2="483.2" stroke="#222" stroke-width="0.9"/>
<line x1="206.21" x2="206.21" y1="448.1" y2="472.3" stroke="#333333" stroke-width="0.5"/>
<line x1="206.21" x2="206.21" y1="488" y2="494.6" stroke="#333333" stroke-width="0.5"/>
<rect x="204.95" y="472.3" width="2.52" height="15.70" fill="#F564E3" stroke="#333333" stroke-width="0.3"/>
<line x1="204.93" x2="207.49" y1="481.1" y2="481.1" stroke="#222" stroke-width="0.9"/>
<circle cx="192.41" cy="446.5" r="1.2" fill="#0a0a0a"/>
<circle cx="197.93" cy="423" r="1.2" fill="#0a0a0a"/>
<circle cx="200.69" cy="441.8" r="1.2" fill="#0a0a0a"/>
<circle cx="203.45" cy="458.6" r="1.2" fill="#0a0a0a"/>
<line x1="214.49" x2="214.49" y1="415.5" y2="452" stroke="#333333" stroke-width="0.5"/>
<line x1="214.49" x2="214.49" y1="477.5" y2="492.6" stroke="#333333" stroke-width="0.5"/>
<rect x="213.23" y="452" width="2.52" height="25.50" fill="#F8766D" stroke="#333333" stroke-width="0.3"/>
<line x1="213.21" x2="215.77" y1="467.5" y2="467.5" stroke="#222" stroke-width="0.9"/>
<line x1="217.25" x2="217.25" y1="366.4" y2="418.2" stroke="#333333" stroke-width="0.5"/>
<line x1="217.25" x2="217.25" y1="471.6" y2="491.9" stroke="#333333" stroke-width="0.5"/>
<rect x="215.99" y="418.2" width="2.52" height="53.40" fill="#B79F00" stroke="#333333" stroke-width="0.3"/>
<line x1="215.97" x2="218.53" y1="448.1" y2="448.1" stroke="#222" stroke-width="0.9"/>
<line x1="220.01" x2="220.01" y1="425.5" y2="448.1" stroke="#333333" stroke-width="0.5"/>
<line x1="220.01" x2="220.01" y1="479.5" y2="490" stroke="#333333" stroke-width="0.5"/>
<rect x="218.75" y="448.1" width="2.52" height="31.40" fill="#00BA38" stroke="#333333" stroke-width="0.3"/>
<line x1="218.73" x2="221.29" y1="463.5" y2="463.5" stroke="#222" stroke-width="0.9"/>
<line x1="222.77" x2="222.77" y1="438.9" y2="457.9" stroke="#333333" stroke-width="0.5"/>
<line x1="222.77" x2="222.77" y1="480.2" y2="484.7" stroke="#333333" stroke-width="0.5"/>
<rect x="221.51" y="457.9" width="2.52" height="22.30" fill="#00BFC4" stroke="#333333" stroke-width="0.3"/>
<line x1="221.49" x2="224.05" y1="473.6" y2="473.6" stroke="#222" stroke-width="0.9"/>
<line x1="225.53" x2="225.53" y1="460" y2="471.9" stroke="#333333" stroke-width="0.5"/>
<line x1="225.53" x2="225.53" y1="488" y2="492.6" stroke="#333333" stroke-width="0.5"/>
<rect x="224.27" y="471.9" width="2.52" height="16.10" fill="#619CFF" stroke="#333333" stroke-width="0.3"/>
<line x1="224.25" x2="226.81" y1="484.5" y2="484.5" stroke="#222" stroke-width="0.9"/>
<line x1="228.29" x2="228.29" y1="426.9" y2="456.6" stroke="#333333" stroke-width="0.5"/>
<line x1="228.29" x2="228.29" y1="484.7" y2="493.2" stroke="#333333" stroke-width="0.5"/>
<rect x="227.03" y="456.6" width="2.52" height="28.10" fill="#F564E3" stroke="#333333" stroke-width="0.3"/>
<line x1="227.01" x2="229.57" y1="475.3" y2="475.3" stroke="#222" stroke-width="0.9"/>
<circle cx="214.49" cy="393.1" r="1.2" fill="#0a0a0a"/>
<circle cx="214.49" cy="402.7" r="1.2" fill="#0a0a0a"/>
<circle cx="214.49" cy="412.7" r="1.2" fill="#0a0a0a"/>
<circle cx="222.77" cy="370.9" r="1.2" fill="#0a0a0a"/>
<circle cx="222.77" cy="414.2" r="1.2" fill="#0a0a0a"/>
<circle cx="225.53" cy="437.8" r="1.2" fill="#0a0a0a"/>
<circle cx="228.29" cy="350.4" r="1.2" fill="#0a0a0a"/>
<circle cx="228.29" cy="389.1" r="1.2" fill="#0a0a0a"/>
<line x1="236.57" x2="236.57" y1="471" y2="483.7" stroke="#333333" stroke-width="0.5"/>
<line x1="236.57" x2="236.57" y1="494.2" y2="495" stroke="#333333" stroke-width="0.5"/>
<rect x="235.31" y="483.7" width="2.52" height="10.50" fill="#F8766D" stroke="#333333" stroke-width="0.3"/>
<line x1="235.29" x2="237.85" y1="490.6" y2="490.6" stroke="#222" stroke-width="0.9"/>
<line x1="239.33" x2="239.33" y1="466.4" y2="480.8" stroke="#333333" stroke-width="0.5"/>
<line x1="239.33" x2="239.33" y1="493.6" y2="495" stroke="#333333" stroke-width="0.5"/>
<rect x="238.07" y="480.8" width="2.52" height="12.80" fill="#B79F00" stroke="#333333" stroke-width="0.3"/>
<line x1="238.05" x2="240.61" y1="490.6" y2="490.6" stroke="#222" stroke-width="0.9"/>
<line x1="242.09" x2="242.09" y1="474" y2="477.5" stroke="#333333" stroke-width="0.5"/>
<line x1="242.09" x2="242.09" y1="488.9" y2="492.6" stroke="#333333" stroke-width="0.5"/>
<rect x="240.83" y="477.5" width="2.52" height="11.40" fill="#00BA38" stroke="#333333" stroke-width="0.3"/>
<line x1="240.81" x2="243.37" y1="481.1" y2="481.1" stroke="#222" stroke-width="0.9"/>
<line x1="244.85" x2="244.85" y1="487" y2="488.9" stroke="#333333" stroke-width="0.5"/>
<line x1="244.85" x2="244.85" y1="493.2" y2="494.5" stroke="#333333" stroke-width="0.5"/>
<rect x="243.59" y="488.9" width="2.52" height="4.30" fill="#00BFC4" stroke="#333333" stroke-width="0.3"/>
<line x1="243.57" x2="246.13" y1="491" y2="491" stroke="#222" stroke-width="0.9"/>
<rect x="246.35" y="490" width="2.52" height="3.90" fill="#619CFF" stroke="#333333" stroke-width="0.3"/>
<line x1="246.33" x2="248.89" y1="492" y2="492" stroke="#222" stroke-width="0.9"/>
<rect x="249.11" y="489.7" width="2.52" height="3.90" fill="#F564E3" stroke="#333333" stroke-width="0.3"/>
<line x1="249.09" x2="251.65" y1="491.6" y2="491.6" stroke="#222" stroke-width="0.9"/>
<circle cx="236.57" cy="461.8" r="1.2" fill="#0a0a0a"/>
<circle cx="236.57" cy="466" r="1.2" fill="#0a0a0a"/>
<circle cx="239.33" cy="460.1" r="1.2" fill="#0a0a0a"/>
<circle cx="242.09" cy="446.8" r="1.2" fill="#0a0a0a"/>
<circle cx="244.85" cy="471.3" r="1.2" fill="#0a0a0a"/>
<circle cx="247.61" cy="487.4" r="1.2" fill="#0a0a0a"/>
<circle cx="247.61" cy="467.7" r="1.2" fill="#0a0a0a"/>
<circle cx="250.37" cy="483.4" r="1.2" fill="#0a0a0a"/>
<line x1="258.65" x2="258.65" y1="406.2" y2="439.6" stroke="#333333" stroke-width="0.5"/>
<line x1="258.65" x2="258.65" y1="480.2" y2="490" stroke="#333333" stroke-width="0.5"/>
<rect x="257.39" y="439.6" width="2.52" height="40.60" fill="#F8766D" stroke="#333333" stroke-width="0.3"/>
<line x1="257.37" x2="259.93" y1="463.1" y2="463.1" stroke="#222" stroke-width="0.9"/>
<line x1="261.41" x2="261.41" y1="363.7" y2="404.2" stroke="#333333" stroke-width="0.5"/>
<line x1="261.41" x2="261.41" y1="457" y2="493.9" stroke="#333333" stroke-width="0.5"/>
<rect x="260.15" y="404.2" width="2.52" height="52.80" fill="#B79F00" stroke="#333333" stroke-width="0.3"/>
<line x1="260.13" x2="262.69" y1="431.3" y2="431.3" stroke="#222" stroke-width="0.9"/>
<line x1="264.17" x2="264.17" y1="382" y2="400.3" stroke="#333333" stroke-width="0.5"/>
<line x1="264.17" x2="264.17" y1="459.2" y2="487.4" stroke="#333333" stroke-width="0.5"/>
<rect x="262.91" y="400.3" width="2.52" height="58.90" fill="#00BA38" stroke="#333333" stroke-width="0.3"/>
<line x1="262.89" x2="265.45" y1="436.3" y2="436.3" stroke="#222" stroke-width="0.9"/>
<line x1="266.93" x2="266.93" y1="383.3" y2="433.7" stroke="#333333" stroke-width="0.5"/>
<line x1="266.93" x2="266.93" y1="476.6" y2="492.6" stroke="#333333" stroke-width="0.5"/>
<rect x="265.67" y="433.7" width="2.52" height="42.90" fill="#00BFC4" stroke="#333333" stroke-width="0.3"/>
<line x1="265.65" x2="268.21" y1="455.3" y2="455.3" stroke="#222" stroke-width="0.9"/>
<line x1="269.69" x2="269.69" y1="414" y2="450.4" stroke="#333333" stroke-width="0.5"/>
<line x1="269.69" x2="269.69" y1="485.4" y2="494.6" stroke="#333333" stroke-width="0.5"/>
<rect x="268.43" y="450.4" width="2.52" height="35.00" fill="#619CFF" stroke="#333333" stroke-width="0.3"/>
<line x1="268.41" x2="270.97" y1="466.2" y2="466.2" stroke="#222" stroke-width="0.9"/>
<line x1="272.45" x2="272.45" y1="411.4" y2="440.2" stroke="#333333" stroke-width="0.5"/>
<line x1="272.45" x2="272.45" y1="475.6" y2="494.6" stroke="#333333" stroke-width="0.5"/>
<rect x="271.19" y="440.2" width="2.52" height="35.40" fill="#F564E3" stroke="#333333" stroke-width="0.3"/>
<line x1="271.17" x2="273.73" y1="459.2" y2="459.2" stroke="#222" stroke-width="0.9"/>
<circle cx="258.65" cy="337.1" r="1.2" fill="#0a0a0a"/>
<circle cx="258.65" cy="348.6" r="1.2" fill="#0a0a0a"/>
<circle cx="269.69" cy="385.3" r="1.2" fill="#0a0a0a"/>
<circle cx="269.69" cy="393.8" r="1.2" fill="#0a0a0a"/>
<circle cx="272.45" cy="354.5" r="1.2" fill="#0a0a0a"/>
<line x1="280.73" x2="280.73" y1="406.2" y2="439.2" stroke="#333333" stroke-width="0.5"/>
<line x1="280.73" x2="280.73" y1="479.8" y2="494.6" stroke="#333333" stroke-width="0.5"/>
<rect x="279.47" y="439.2" width="2.52" height="40.60" fill="#F8766D" stroke="#333333" stroke-width="0.3"/>
<line x1="279.45" x2="282.01" y1="462.9" y2="462.9" stroke="#222" stroke-width="0.9"/>
<line x1="283.49" x2="283.49" y1="363.7" y2="404.2" stroke="#333333" stroke-width="0.5"/>
<line x1="283.49" x2="283.49" y1="457" y2="494.6" stroke="#333333" stroke-width="0.5"/>
<rect x="282.23" y="404.2" width="2.52" height="52.80" fill="#B79F00" stroke="#333333" stroke-width="0.3"/>
<line x1="282.21" x2="284.77" y1="431.3" y2="431.3" stroke="#222" stroke-width="0.9"/>
<line x1="286.25" x2="286.25" y1="381.3" y2="400.3" stroke="#333333" stroke-width="0.5"/>
<line x1="286.25" x2="286.25" y1="457.9" y2="488" stroke="#333333" stroke-width="0.5"/>
<rect x="284.99" y="400.3" width="2.52" height="57.60" fill="#00BA38" stroke="#333333" stroke-width="0.3"/>
<line x1="284.97" x2="287.53" y1="435.7" y2="435.7" stroke="#222" stroke-width="0.9"/>
<line x1="289.01" x2="289.01" y1="383.3" y2="433.7" stroke="#333333" stroke-width="0.5"/>
<line x1="289.01" x2="289.01" y1="475.8" y2="492.6" stroke="#333333" stroke-width="0.5"/>
<rect x="287.75" y="433.7" width="2.52" height="42.10" fill="#00BFC4" stroke="#333333" stroke-width="0.3"/>
<line x1="287.73" x2="290.29" y1="454.9" y2="454.9" stroke="#222" stroke-width="0.9"/>
<line x1="291.77" x2="291.77" y1="414" y2="450" stroke="#333333" stroke-width="0.5"/>
<line x1="291.77" x2="291.77" y1="485.4" y2="494.6" stroke="#333333" stroke-width="0.5"/>
<rect x="290.51" y="450" width="2.52" height="35.40" fill="#619CFF" stroke="#333333" stroke-width="0.3"/>
<line x1="290.49" x2="293.05" y1="466.2" y2="466.2" stroke="#222" stroke-width="0.9"/>
<line x1="294.53" x2="294.53" y1="410.8" y2="440" stroke="#333333" stroke-width="0.5"/>
<line x1="294.53" x2="294.53" y1="474.9" y2="494.6" stroke="#333333" stroke-width="0.5"/>
<rect x="293.27" y="440" width="2.52" height="34.90" fill="#F564E3" stroke="#333333" stroke-width="0.3"/>
<line x1="293.25" x2="295.81" y1="459.2" y2="459.2" stroke="#222" stroke-width="0.9"/>
<circle cx="280.73" cy="337.1" r="1.2" fill="#0a0a0a"/>
<circle cx="280.73" cy="347.7" r="1.2" fill="#0a0a0a"/>
<circle cx="291.77" cy="385.3" r="1.2" fill="#0a0a0a"/>
<circle cx="291.77" cy="393.8" r="1.2" fill="#0a0a0a"/>
<circle cx="294.53" cy="354.5" r="1.2" fill="#0a0a0a"/>
<line x1="302.81" x2="302.81" y1="440.9" y2="462.7" stroke="#333333" stroke-width="0.5"/>
<line x1="302.81" x2="302.81" y1="488.4" y2="493.2" stroke="#333333" stroke-width="0.5"/>
<rect x="301.55" y="462.7" width="2.52" height="25.70" fill="#F8766D" stroke="#333333" stroke-width="0.3"/>
<line x1="301.53" x2="304.09" y1="485" y2="485" stroke="#222" stroke-width="0.9"/>
<line x1="305.57" x2="305.57" y1="451.4" y2="462.5" stroke="#333333" stroke-width="0.5"/>
<line x1="305.57" x2="305.57" y1="484.7" y2="489.3" stroke="#333333" stroke-width="0.5"/>
<rect x="304.31" y="462.5" width="2.52" height="22.20" fill="#B79F00" stroke="#333333" stroke-width="0.3"/>
<line x1="304.29" x2="306.85" y1="476.6" y2="476.6" stroke="#222" stroke-width="0.9"/>
<line x1="308.33" x2="308.33" y1="474.3" y2="478.2" stroke="#333333" stroke-width="0.5"/>
<line x1="308.33" x2="308.33" y1="491.9" y2="494" stroke="#333333" stroke-width="0.5"/>
<rect x="307.07" y="478.2" width="2.52" height="13.70" fill="#00BA38" stroke="#333333" stroke-width="0.3"/>
<line x1="307.05" x2="309.61" y1="484.5" y2="484.5" stroke="#222" stroke-width="0.9"/>
<line x1="311.09" x2="311.09" y1="473" y2="483.4" stroke="#333333" stroke-width="0.5"/>
<line x1="311.09" x2="311.09" y1="491" y2="493" stroke="#333333" stroke-width="0.5"/>
<rect x="309.83" y="483.4" width="2.52" height="7.60" fill="#00BFC4" stroke="#333333" stroke-width="0.3"/>
<line x1="309.81" x2="312.37" y1="487.4" y2="487.4" stroke="#222" stroke-width="0.9"/>
<line x1="313.85" x2="313.85" y1="478" y2="481.5" stroke="#333333" stroke-width="0.5"/>
<line x1="313.85" x2="313.85" y1="491" y2="493.5" stroke="#333333" stroke-width="0.5"/>
<rect x="312.59" y="481.5" width="2.52" height="9.50" fill="#619CFF" stroke="#333333" stroke-width="0.3"/>
<line x1="312.57" x2="315.13" y1="486.3" y2="486.3" stroke="#222" stroke-width="0.9"/>
<line x1="316.61" x2="316.61" y1="426.5" y2="461.2" stroke="#333333" stroke-width="0.5"/>
<line x1="316.61" x2="316.61" y1="491.5" y2="495.2" stroke="#333333" stroke-width="0.5"/>
<rect x="315.35" y="461.2" width="2.52" height="30.30" fill="#F564E3" stroke="#333333" stroke-width="0.3"/>
<line x1="315.33" x2="317.89" y1="485.4" y2="485.4" stroke="#222" stroke-width="0.9"/>
<circle cx="302.81" cy="368.2" r="1.2" fill="#0a0a0a"/>
<circle cx="302.81" cy="327.7" r="1.2" fill="#0a0a0a"/>
<circle cx="305.57" cy="302" r="1.2" fill="#0a0a0a"/>
<circle cx="308.33" cy="444.2" r="1.2" fill="#0a0a0a"/>
<circle cx="311.09" cy="450.7" r="1.2" fill="#0a0a0a"/>
<circle cx="311.09" cy="466.7" r="1.2" fill="#0a0a0a"/>
<circle cx="311.09" cy="470.3" r="1.2" fill="#0a0a0a"/>
<circle cx="313.85" cy="464.5" r="1.2" fill="#0a0a0a"/>
<circle cx="316.61" cy="415.1" r="1.2" fill="#0a0a0a"/>
<line x1="324.89" x2="324.89" y1="348.7" y2="416.7" stroke="#333333" stroke-width="0.5"/>
<line x1="324.89" x2="324.89" y1="466.2" y2="492.6" stroke="#333333" stroke-width="0.5"/>
<rect x="323.63" y="416.7" width="2.52" height="49.50" fill="#F8766D" stroke="#333333" stroke-width="0.3"/>
<line x1="323.61" x2="326.17" y1="439.6" y2="439.6" stroke="#222" stroke-width="0.9"/>
<line x1="327.65" x2="327.65" y1="314" y2="382" stroke="#333333" stroke-width="0.5"/>
<line x1="327.65" x2="327.65" y1="439.6" y2="474.3" stroke="#333333" stroke-width="0.5"/>
<rect x="326.39" y="382" width="2.52" height="57.60" fill="#B79F00" stroke="#333333" stroke-width="0.3"/>
<line x1="326.37" x2="328.93" y1="423.2" y2="423.2" stroke="#222" stroke-width="0.9"/>
<line x1="330.41" x2="330.41" y1="378.7" y2="394.2" stroke="#333333" stroke-width="0.5"/>
<line x1="330.41" x2="330.41" y1="472.7" y2="491.9" stroke="#333333" stroke-width="0.5"/>
<rect x="329.15" y="394.2" width="2.52" height="78.50" fill="#00BA38" stroke="#333333" stroke-width="0.3"/>
<line x1="329.13" x2="331.69" y1="448.7" y2="448.7" stroke="#222" stroke-width="0.9"/>
<line x1="333.17" x2="333.17" y1="378.7" y2="418.6" stroke="#333333" stroke-width="0.5"/>
<line x1="333.17" x2="333.17" y1="469.7" y2="490" stroke="#333333" stroke-width="0.5"/>
<rect x="331.91" y="418.6" width="2.52" height="51.10" fill="#00BFC4" stroke="#333333" stroke-width="0.3"/>
<line x1="331.89" x2="334.45" y1="457.9" y2="457.9" stroke="#222" stroke-width="0.9"/>
<line x1="335.93" x2="335.93" y1="377.1" y2="431.7" stroke="#333333" stroke-width="0.5"/>
<line x1="335.93" x2="335.93" y1="474.3" y2="493.9" stroke="#333333" stroke-width="0.5"/>
<rect x="334.67" y="431.7" width="2.52" height="42.60" fill="#619CFF" stroke="#333333" stroke-width="0.3"/>
<line x1="334.65" x2="337.21" y1="450" y2="450" stroke="#222" stroke-width="0.9"/>
<line x1="338.69" x2="338.69" y1="378.4" y2="408.2" stroke="#333333" stroke-width="0.5"/>
<line x1="338.69" x2="338.69" y1="473.6" y2="488" stroke="#333333" stroke-width="0.5"/>
<rect x="337.43" y="408.2" width="2.52" height="65.40" fill="#F564E3" stroke="#333333" stroke-width="0.3"/>
<line x1="337.41" x2="339.97" y1="443.9" y2="443.9" stroke="#222" stroke-width="0.9"/>
<circle cx="335.93" cy="308.7" r="1.2" fill="#0a0a0a"/>
<circle cx="335.93" cy="334.7" r="1.2" fill="#0a0a0a"/>
<line x1="346.97" x2="346.97" y1="349.3" y2="416.4" stroke="#333333" stroke-width="0.5"/>
<line x1="346.97" x2="346.97" y1="466.2" y2="481.5" stroke="#333333" stroke-width="0.5"/>
<rect x="345.71" y="416.4" width="2.52" height="49.80" fill="#F8766D" stroke="#333333" stroke-width="0.3"/>
<line x1="345.69" x2="348.25" y1="441.3" y2="441.3" stroke="#222" stroke-width="0.9"/>
<line x1="349.73" x2="349.73" y1="336.6" y2="361.8" stroke="#333333" stroke-width="0.5"/>
<line x1="349.73" x2="349.73" y1="447.4" y2="454.6" stroke="#333333" stroke-width="0.5"/>
<rect x="348.47" y="361.8" width="2.52" height="85.60" fill="#B79F00" stroke="#333333" stroke-width="0.3"/>
<line x1="348.45" x2="351.01" y1="387.2" y2="387.2" stroke="#222" stroke-width="0.9"/>
<line x1="352.49" x2="352.49" y1="370.9" y2="396.4" stroke="#333333" stroke-width="0.5"/>
<line x1="352.49" x2="352.49" y1="434" y2="456" stroke="#333333" stroke-width="0.5"/>
<rect x="351.23" y="396.4" width="2.52" height="37.60" fill="#00BA38" stroke="#333333" stroke-width="0.3"/>
<line x1="351.21" x2="353.77" y1="423.2" y2="423.2" stroke="#222" stroke-width="0.9"/>
<line x1="355.25" x2="355.25" y1="425" y2="452" stroke="#333333" stroke-width="0.5"/>
<line x1="355.25" x2="355.25" y1="475.6" y2="483.4" stroke="#333333" stroke-width="0.5"/>
<rect x="353.99" y="452" width="2.52" height="23.60" fill="#00BFC4" stroke="#333333" stroke-width="0.3"/>
<line x1="353.97" x2="356.53" y1="461.8" y2="461.8" stroke="#222" stroke-width="0.9"/>
<line x1="358.01" x2="358.01" y1="413" y2="438.3" stroke="#333333" stroke-width="0.5"/>
<line x1="358.01" x2="358.01" y1="476.2" y2="495.2" stroke="#333333" stroke-width="0.5"/>
<rect x="356.75" y="438.3" width="2.52" height="37.90" fill="#619CFF" stroke="#333333" stroke-width="0.3"/>
<line x1="356.73" x2="359.29" y1="462.2" y2="462.2" stroke="#222" stroke-width="0.9"/>
<line x1="360.77" x2="360.77" y1="418.7" y2="450" stroke="#333333" stroke-width="0.5"/>
<line x1="360.77" x2="360.77" y1="474.3" y2="491.9" stroke="#333333" stroke-width="0.5"/>
<rect x="359.51" y="450" width="2.52" height="24.30" fill="#F564E3" stroke="#333333" stroke-width="0.3"/>
<line x1="359.49" x2="362.05" y1="459.6" y2="459.6" stroke="#222" stroke-width="0.9"/>
<circle cx="346.97" cy="298.7" r="1.2" fill="#0a0a0a"/>
<circle cx="352.49" cy="314" r="1.2" fill="#0a0a0a"/>
<circle cx="355.25" cy="415.4" r="1.2" fill="#0a0a0a"/>
<circle cx="358.01" cy="333" r="1.2" fill="#0a0a0a"/>
<line x1="369.05" x2="369.05" y1="457.3" y2="470.3" stroke="#333333" stroke-width="0.5"/>
<line x1="369.05" x2="369.05" y1="486.7" y2="494.6" stroke="#333333" stroke-width="0.5"/>
<rect x="367.79" y="470.3" width="2.52" height="16.40" fill="#F8766D" stroke="#333333" stroke-width="0.3"/>
<line x1="367.77" x2="370.33" y1="483.4" y2="483.4" stroke="#222" stroke-width="0.9"/>
<line x1="371.81" x2="371.81" y1="440" y2="461.4" stroke="#333333" stroke-width="0.5"/>
<line x1="371.81" x2="371.81" y1="481.5" y2="495.2" stroke="#333333" stroke-width="0.5"/>
<rect x="370.55" y="461.4" width="2.52" height="20.10" fill="#B79F00" stroke="#333333" stroke-width="0.3"/>
<line x1="370.53" x2="373.09" y1="473.2" y2="473.2" stroke="#222" stroke-width="0.9"/>
<line x1="374.57" x2="374.57" y1="447" y2="455.3" stroke="#333333" stroke-width="0.5"/>
<line x1="374.57" x2="374.57" y1="475.8" y2="482" stroke="#333333" stroke-width="0.5"/>
<rect x="373.31" y="455.3" width="2.52" height="20.50" fill="#00BA38" stroke="#333333" stroke-width="0.3"/>
<line x1="373.29" x2="375.85" y1="469.3" y2="469.3" stroke="#222" stroke-width="0.9"/>
<line x1="377.33" x2="377.33" y1="470" y2="474.9" stroke="#333333" stroke-width="0.5"/>
<line x1="377.33" x2="377.33" y1="490.6" y2="493.9" stroke="#333333" stroke-width="0.5"/>
<rect x="376.07" y="474.9" width="2.52" height="15.70" fill="#00BFC4" stroke="#333333" stroke-width="0.3"/>
<line x1="376.05" x2="378.61" y1="482.8" y2="482.8" stroke="#222" stroke-width="0.9"/>
<line x1="380.09" x2="380.09" y1="479" y2="482.1" stroke="#333333" stroke-width="0.5"/>
<line x1="380.09" x2="380.09" y1="489.3" y2="493.9" stroke="#333333" stroke-width="0.5"/>
<rect x="378.83" y="482.1" width="2.52" height="7.20" fill="#619CFF" stroke="#333333" stroke-width="0.3"/>
<line x1="378.81" x2="381.37" y1="485.4" y2="485.4" stroke="#222" stroke-width="0.9"/>
<line x1="382.85" x2="382.85" y1="446.8" y2="471.6" stroke="#333333" stroke-width="0.5"/>
<line x1="382.85" x2="382.85" y1="489.3" y2="494.6" stroke="#333333" stroke-width="0.5"/>
<rect x="381.59" y="471.6" width="2.52" height="17.70" fill="#F564E3" stroke="#333333" stroke-width="0.3"/>
<line x1="381.57" x2="384.13" y1="481.9" y2="481.9" stroke="#222" stroke-width="0.9"/>
<circle cx="369.05" cy="444.4" r="1.2" fill="#0a0a0a"/>
<circle cx="371.81" cy="419.1" r="1.2" fill="#0a0a0a"/>
<circle cx="380.09" cy="465.1" r="1.2" fill="#0a0a0a"/>
<circle cx="380.09" cy="467.1" r="1.2" fill="#0a0a0a"/>
<circle cx="380.09" cy="469.3" r="1.2" fill="#0a0a0a"/>
<line x1="391.13" x2="391.13" y1="438.8" y2="458.7" stroke="#333333" stroke-width="0.5"/>
<line x1="391.13" x2="391.13" y1="486.2" y2="492.8" stroke="#333333" stroke-width="0.5"/>
<rect x="389.87" y="458.7" width="2.52" height="27.50" fill="#F8766D" stroke="#333333" stroke-width="0.3"/>
<line x1="389.85" x2="392.41" y1="478" y2="478" stroke="#222" stroke-width="0.9"/>
<line x1="393.89" x2="393.89" y1="445.4" y2="454.5" stroke="#333333" stroke-width="0.5"/>
<line x1="393.89" x2="393.89" y1="480.9" y2="483" stroke="#333333" stroke-width="0.5"/>
<rect x="392.63" y="454.5" width="2.52" height="26.40" fill="#B79F00" stroke="#333333" stroke-width="0.3"/>
<line x1="392.61" x2="395.17" y1="466.6" y2="466.6" stroke="#222" stroke-width="0.9"/>
<line x1="396.65" x2="396.65" y1="467.6" y2="473.5" stroke="#333333" stroke-width="0.5"/>
<line x1="396.65" x2="396.65" y1="482" y2="487" stroke="#333333" stroke-width="0.5"/>
<rect x="395.39" y="473.5" width="2.52" height="8.50" fill="#00BA38" stroke="#333333" stroke-width="0.3"/>
<line x1="395.37" x2="397.93" y1="480" y2="480" stroke="#222" stroke-width="0.9"/>
<line x1="399.41" x2="399.41" y1="476" y2="479.4" stroke="#333333" stroke-width="0.5"/>
<line x1="399.41" x2="399.41" y1="488.2" y2="490.4" stroke="#333333" stroke-width="0.5"/>
<rect x="398.15" y="479.4" width="2.52" height="8.80" fill="#00BFC4" stroke="#333333" stroke-width="0.3"/>
<line x1="398.13" x2="400.69" y1="484.1" y2="484.1" stroke="#222" stroke-width="0.9"/>
<line x1="402.17" x2="402.17" y1="471" y2="478.2" stroke="#333333" stroke-width="0.5"/>
<line x1="402.17" x2="402.17" y1="489.3" y2="492.8" stroke="#333333" stroke-width="0.5"/>
<rect x="400.91" y="478.2" width="2.52" height="11.10" fill="#619CFF" stroke="#333333" stroke-width="0.3"/>
<line x1="400.89" x2="403.45" y1="483.6" y2="483.6" stroke="#222" stroke-width="0.9"/>
<line x1="404.93" x2="404.93" y1="413.7" y2="457.7" stroke="#333333" stroke-width="0.5"/>
<line x1="404.93" x2="404.93" y1="488.4" y2="492" stroke="#333333" stroke-width="0.5"/>
<rect x="403.67" y="457.7" width="2.52" height="30.70" fill="#F564E3" stroke="#333333" stroke-width="0.3"/>
<line x1="403.65" x2="406.21" y1="483.6" y2="483.6" stroke="#222" stroke-width="0.9"/>
<circle cx="391.13" cy="363" r="1.2" fill="#0a0a0a"/>
<circle cx="396.65" cy="435.8" r="1.2" fill="#0a0a0a"/>
<circle cx="399.41" cy="449" r="1.2" fill="#0a0a0a"/>
<circle cx="399.41" cy="463.3" r="1.2" fill="#0a0a0a"/>
</g>
<line x1="29.3" x2="31.5" y1="495.75" y2="495.75" stroke="#333" stroke-width="0.5"/>
<text x="28.7" y="497.84" font-size="5.8" fill="#4D4D4D" text-anchor="end">0.0</text>
<line x1="29.3" x2="31.5" y1="425.4" y2="425.4" stroke="#333" stroke-width="0.5"/>
<text x="28.7" y="427.49" font-size="5.8" fill="#4D4D4D" text-anchor="end">0.2</text>
<line x1="29.3" x2="31.5" y1="355.0" y2="355.0" stroke="#333" stroke-width="0.5"/>
<text x="28.7" y="357.09" font-size="5.8" fill="#4D4D4D" text-anchor="end">0.4</text>
<line x1="44.75" x2="44.75" y1="504.4" y2="506.59999999999997" stroke="#333" stroke-width="0.5"/>
<text transform="translate(46.71,523.8) rotate(-90)" font-size="5.45" fill="#4D4D4D" text-anchor="middle">CA</text>
<line x1="66.83" x2="66.83" y1="504.4" y2="506.59999999999997" stroke="#333" stroke-width="0.5"/>
<text transform="translate(68.79,523.8) rotate(-90)" font-size="5.45" fill="#4D4D4D" text-anchor="middle">CA G</text>
<line x1="88.91" x2="88.91" y1="504.4" y2="506.59999999999997" stroke="#333" stroke-width="0.5"/>
<text transform="translate(90.87,523.8) rotate(-90)" font-size="5.45" fill="#4D4D4D" text-anchor="middle">CA GS</text>
<line x1="110.99" x2="110.99" y1="504.4" y2="506.59999999999997" stroke="#333" stroke-width="0.5"/>
<text transform="translate(112.95,523.8) rotate(-90)" font-size="5.45" fill="#4D4D4D" text-anchor="middle">Total CA</text>
<line x1="133.07" x2="133.07" y1="504.4" y2="506.59999999999997" stroke="#333" stroke-width="0.5"/>
<text transform="translate(135.03,523.8) rotate(-90)" font-size="5.45" fill="#4D4D4D" text-anchor="middle">DHPAA</text>
<line x1="155.15" x2="155.15" y1="504.4" y2="506.59999999999997" stroke="#333" stroke-width="0.5"/>
<text transform="translate(157.11,523.8) rotate(-90)" font-size="5.45" fill="#4D4D4D" text-anchor="middle">DHPAA G</text>
<line x1="177.23" x2="177.23" y1="504.4" y2="506.59999999999997" stroke="#333" stroke-width="0.5"/>
<text transform="translate(179.19,523.8) rotate(-90)" font-size="5.45" fill="#4D4D4D" text-anchor="middle">DHPAA GS</text>
<line x1="199.31" x2="199.31" y1="504.4" y2="506.59999999999997" stroke="#333" stroke-width="0.5"/>
<text transform="translate(201.27,523.8) rotate(-90)" font-size="5.45" fill="#4D4D4D" text-anchor="middle">DHPAA SS</text>
<line x1="221.39" x2="221.39" y1="504.4" y2="506.59999999999997" stroke="#333" stroke-width="0.5"/>
<text transform="translate(223.35,523.8) rotate(-90)" font-size="5.45" fill="#4D4D4D" text-anchor="middle">Total DHPAA</text>
<line x1="243.47" x2="243.47" y1="504.4" y2="506.59999999999997" stroke="#333" stroke-width="0.5"/>
<text transform="translate(245.43,523.8) rotate(-90)" font-size="5.45" fill="#4D4D4D" text-anchor="middle">TFA G</text>
<line x1="265.55" x2="265.55" y1="504.4" y2="506.59999999999997" stroke="#333" stroke-width="0.5"/>
<text transform="translate(267.51,523.8) rotate(-90)" font-size="5.45" fill="#4D4D4D" text-anchor="middle">TFA S</text>
<line x1="287.63" x2="287.63" y1="504.4" y2="506.59999999999997" stroke="#333" stroke-width="0.5"/>
<text transform="translate(289.59,523.8) rotate(-90)" font-size="5.45" fill="#4D4D4D" text-anchor="middle">Total TFA</text>
<line x1="309.71" x2="309.71" y1="504.4" y2="506.59999999999997" stroke="#333" stroke-width="0.5"/>
<text transform="translate(311.67,523.8) rotate(-90)" font-size="5.45" fill="#4D4D4D" text-anchor="middle">VA</text>
<line x1="331.79" x2="331.79" y1="504.4" y2="506.59999999999997" stroke="#333" stroke-width="0.5"/>
<text transform="translate(333.75,523.8) rotate(-90)" font-size="5.45" fill="#4D4D4D" text-anchor="middle">VA GG</text>
<line x1="353.87" x2="353.87" y1="504.4" y2="506.59999999999997" stroke="#333" stroke-width="0.5"/>
<text transform="translate(355.83,523.8) rotate(-90)" font-size="5.45" fill="#4D4D4D" text-anchor="middle">VA GS</text>
<line x1="375.95" x2="375.95" y1="504.4" y2="506.59999999999997" stroke="#333" stroke-width="0.5"/>
<text transform="translate(377.91,523.8) rotate(-90)" font-size="5.45" fill="#4D4D4D" text-anchor="middle">VA SS</text>
<line x1="398.03" x2="398.03" y1="504.4" y2="506.59999999999997" stroke="#333" stroke-width="0.5"/>
<text transform="translate(399.99,523.8) rotate(-90)" font-size="5.45" fill="#4D4D4D" text-anchor="middle">Total VA</text>
<text transform="translate(17.8,400.85) rotate(-90)" font-size="6.45" fill="#222" text-anchor="middle">Standarized Value</text>
<text x="215.70" y="547.1" font-size="4.5" font-weight="bold" fill="#111" text-anchor="middle">Bioactive Metabolites</text>
<text x="31" y="294.2" font-size="8.34" fill="#000">B. Concentrations of (Poly)phenols Metabolites at Final Time</text>
<text x="421.90000000000003" y="371.8" font-size="6.35" fill="#111">Cluster</text>
<line x1="426.85" x2="426.85" y1="377.10" y2="383.90" stroke="#333" stroke-width="0.5"/>
<rect x="423.2" y="378.07" width="7.3" height="4.86" fill="#F8766D" stroke="#333" stroke-width="0.45"/>
<line x1="423.2" x2="430.50000000000006" y1="380.5" y2="380.5" stroke="#333" stroke-width="0.5"/>
<text x="435.20000000000005" y="382.44" font-size="5.4" fill="#111">1</text>
<line x1="426.85" x2="426.85" y1="387.43" y2="394.23" stroke="#333" stroke-width="0.5"/>
<rect x="423.2" y="388.40" width="7.3" height="4.86" fill="#B79F00" stroke="#333" stroke-width="0.45"/>
<line x1="423.2" x2="430.50000000000006" y1="390.83" y2="390.83" stroke="#333" stroke-width="0.5"/>
<text x="435.20000000000005" y="392.77" font-size="5.4" fill="#111">2</text>
<line x1="426.85" x2="426.85" y1="397.76" y2="404.56" stroke="#333" stroke-width="0.5"/>
<rect x="423.2" y="398.73" width="7.3" height="4.86" fill="#00BA38" stroke="#333" stroke-width="0.45"/>
<line x1="423.2" x2="430.50000000000006" y1="401.16" y2="401.16" stroke="#333" stroke-width="0.5"/>
<text x="435.20000000000005" y="403.10" font-size="5.4" fill="#111">3</text>
<line x1="426.85" x2="426.85" y1="408.09" y2="414.89" stroke="#333" stroke-width="0.5"/>
<rect x="423.2" y="409.06" width="7.3" height="4.86" fill="#00BFC4" stroke="#333" stroke-width="0.45"/>
<line x1="423.2" x2="430.50000000000006" y1="411.49" y2="411.49" stroke="#333" stroke-width="0.5"/>
<text x="435.20000000000005" y="413.43" font-size="5.4" fill="#111">4</text>
<line x1="426.85" x2="426.85" y1="418.42" y2="425.22" stroke="#333" stroke-width="0.5"/>
<rect x="423.2" y="419.39" width="7.3" height="4.86" fill="#619CFF" stroke="#333" stroke-width="0.45"/>
<line x1="423.2" x2="430.50000000000006" y1="421.82" y2="421.82" stroke="#333" stroke-width="0.5"/>
<text x="435.20000000000005" y="423.76" font-size="5.4" fill="#111">5</text>
<line x1="426.85" x2="426.85" y1="428.75" y2="435.55" stroke="#333" stroke-width="0.5"/>
<rect x="423.2" y="429.72" width="7.3" height="4.86" fill="#F564E3" stroke="#333" stroke-width="0.45"/>
<line x1="423.2" x2="430.50000000000006" y1="432.15" y2="432.15" stroke="#333" stroke-width="0.5"/>
<text x="435.20000000000005" y="434.09" font-size="5.4" fill="#111">6</text>
<rect x="375.40000000000003" y="297.40000000000003" width="70.30" height="10.00" fill="#fff" fill-opacity="0.7"/>
<rect x="375.40000000000003" y="307.40000000000003" width="70.30" height="10.00" fill="#fff" fill-opacity="0.7"/>
<rect x="384.8" y="317.40000000000003" width="60.90" height="10.20" fill="#fff" fill-opacity="0.7"/>
<rect x="375.40000000000003" y="327.6" width="70.30" height="10.00" fill="#fff" fill-opacity="0.7"/>
<rect x="375.40000000000003" y="337.6" width="70.30" height="9.80" fill="#fff" fill-opacity="0.7"/>
<rect x="375.40000000000003" y="347.40000000000003" width="70.30" height="9.80" fill="#fff" fill-opacity="0.7"/>
<rect x="375.55" y="297.60" width="9.30" height="9.60" fill="#F2F2F2"/>
<text x="384.20" y="303.95" font-size="4.3" fill="#111" text-anchor="end" font-style="italic">M</text>
<rect x="384.95" y="297.60" width="8.90" height="9.60" fill="#F3F3F3"/>
<text x="389.40" y="303.95" font-size="4.3" fill="#111" text-anchor="middle">13</text>
<rect x="394.35" y="297.60" width="9.50" height="9.60" fill="#F3F3F3"/>
<text x="399.10" y="303.95" font-size="4.3" fill="#111" text-anchor="middle">4</text>
<rect x="404.15" y="297.60" width="7.70" height="9.60" fill="#F3F3F3"/>
<text x="408.00" y="303.95" font-size="4.3" fill="#111" text-anchor="middle">3</text>
<rect x="412.35" y="297.60" width="10.50" height="9.60" fill="#F3F3F3"/>
<text x="417.60" y="303.95" font-size="4.3" fill="#111" text-anchor="middle">7</text>
<rect x="423.55" y="297.60" width="10.30" height="9.60" fill="#F3F3F3"/>
<text x="428.70" y="303.95" font-size="4.3" fill="#111" text-anchor="middle">23</text>
<rect x="434.55" y="297.60" width="11.00" height="9.60" fill="#F3F3F3"/>
<text x="440.05" y="303.95" font-size="4.3" fill="#111" text-anchor="middle">21</text>
<rect x="375.55" y="307.60" width="9.30" height="9.60" fill="#F2F2F2"/>
<text x="384.20" y="313.95" font-size="4.3" fill="#111" text-anchor="end" font-style="italic">W</text>
<rect x="384.95" y="307.60" width="8.90" height="9.60" fill="#E7E7E7"/>
<text x="389.40" y="313.95" font-size="4.3" fill="#111" text-anchor="middle">13</text>
<rect x="394.35" y="307.60" width="9.50" height="9.60" fill="#E7E7E7"/>
<text x="399.10" y="313.95" font-size="4.3" fill="#111" text-anchor="middle">9</text>
<rect x="404.15" y="307.60" width="7.70" height="9.60" fill="#E7E7E7"/>
<text x="408.00" y="313.95" font-size="4.3" fill="#111" text-anchor="middle">5</text>
<rect x="412.35" y="307.60" width="10.50" height="9.60" fill="#E7E7E7"/>
<text x="417.60" y="313.95" font-size="4.3" fill="#111" text-anchor="middle">10</text>
<rect x="423.55" y="307.60" width="10.30" height="9.60" fill="#E7E7E7"/>
<text x="428.70" y="313.95" font-size="4.3" fill="#111" text-anchor="middle">6</text>
<rect x="434.55" y="307.60" width="11.00" height="9.60" fill="#E7E7E7"/>
<text x="440.05" y="313.95" font-size="4.3" fill="#111" text-anchor="middle">6</text>
<rect x="384.95" y="317.60" width="8.90" height="9.80" fill="#CDCDCD"/>
<text x="389.40" y="324.05" font-size="4.3" fill="#000" text-anchor="middle" font-weight="bold">1</text>
<rect x="394.35" y="317.60" width="9.50" height="9.80" fill="#CDCDCD"/>
<text x="399.10" y="324.05" font-size="4.3" fill="#000" text-anchor="middle" font-weight="bold">2</text>
<rect x="404.15" y="317.60" width="7.70" height="9.80" fill="#CDCDCD"/>
<text x="408.00" y="324.05" font-size="4.3" fill="#000" text-anchor="middle" font-weight="bold">3</text>
<rect x="412.35" y="317.60" width="10.50" height="9.80" fill="#CDCDCD"/>
<text x="417.60" y="324.05" font-size="4.3" fill="#000" text-anchor="middle" font-weight="bold">4</text>
<rect x="423.55" y="317.60" width="10.30" height="9.80" fill="#CDCDCD"/>
<text x="428.70" y="324.05" font-size="4.3" fill="#000" text-anchor="middle" font-weight="bold">5</text>
<rect x="434.55" y="317.60" width="11.00" height="9.80" fill="#CDCDCD"/>
<text x="440.05" y="324.05" font-size="4.3" fill="#000" text-anchor="middle" font-weight="bold">6</text>
<rect x="375.55" y="327.80" width="9.30" height="9.60" fill="#F2F2F2"/>
<text x="384.20" y="334.15" font-size="4.3" fill="#111" text-anchor="end" font-style="italic">S4</text>
<rect x="384.95" y="327.80" width="8.90" height="9.60" fill="#F3F3F3"/>
<text x="389.40" y="334.15" font-size="4.3" fill="#111" text-anchor="middle">5</text>
<rect x="394.35" y="327.80" width="9.50" height="9.60" fill="#F3F3F3"/>
<text x="399.10" y="334.15" font-size="4.3" fill="#111" text-anchor="middle">2</text>
<rect x="404.15" y="327.80" width="7.70" height="9.60" fill="#F3F3F3"/>
<text x="408.00" y="334.15" font-size="4.3" fill="#111" text-anchor="middle">0</text>
<rect x="412.35" y="327.80" width="10.50" height="9.60" fill="#F3F3F3"/>
<text x="417.60" y="334.15" font-size="4.3" fill="#111" text-anchor="middle">13</text>
<rect x="423.55" y="327.80" width="10.30" height="9.60" fill="#F3F3F3"/>
<text x="428.70" y="334.15" font-size="4.3" fill="#111" text-anchor="middle">11</text>
<rect x="434.55" y="327.80" width="11.00" height="9.60" fill="#F3F3F3"/>
<text x="440.05" y="334.15" font-size="4.3" fill="#111" text-anchor="middle">11</text>
<rect x="375.55" y="337.80" width="9.30" height="9.40" fill="#F2F2F2"/>
<text x="384.20" y="344.05" font-size="4.3" fill="#111" text-anchor="end" font-style="italic">S7</text>
<rect x="384.95" y="337.80" width="8.90" height="9.40" fill="#E7E7E7"/>
<text x="389.40" y="344.05" font-size="4.3" fill="#111" text-anchor="middle">9</text>
<rect x="394.35" y="337.80" width="9.50" height="9.40" fill="#E7E7E7"/>
<text x="399.10" y="344.05" font-size="4.3" fill="#111" text-anchor="middle">6</text>
<rect x="404.15" y="337.80" width="7.70" height="9.40" fill="#E7E7E7"/>
<text x="408.00" y="344.05" font-size="4.3" fill="#111" text-anchor="middle">4</text>
<rect x="412.35" y="337.80" width="10.50" height="9.40" fill="#E7E7E7"/>
<text x="417.60" y="344.05" font-size="4.3" fill="#111" text-anchor="middle">5</text>
<rect x="423.55" y="337.80" width="10.30" height="9.40" fill="#E7E7E7"/>
<text x="428.70" y="344.05" font-size="4.3" fill="#111" text-anchor="middle">12</text>
<rect x="434.55" y="337.80" width="11.00" height="9.40" fill="#E7E7E7"/>
<text x="440.05" y="344.05" font-size="4.3" fill="#111" text-anchor="middle">5</text>
<rect x="375.55" y="347.60" width="9.30" height="9.40" fill="#F2F2F2"/>
<text x="384.20" y="353.85" font-size="4.3" fill="#111" text-anchor="end" font-style="italic">SU</text>
<rect x="384.95" y="347.60" width="8.90" height="9.40" fill="#F3F3F3"/>
<text x="389.40" y="353.85" font-size="4.3" fill="#111" text-anchor="middle">12</text>
<rect x="394.35" y="347.60" width="9.50" height="9.40" fill="#F3F3F3"/>
<text x="399.10" y="353.85" font-size="4.3" fill="#111" text-anchor="middle">5</text>
<rect x="404.15" y="347.60" width="7.70" height="9.40" fill="#F3F3F3"/>
<text x="408.00" y="353.85" font-size="4.3" fill="#111" text-anchor="middle">4</text>
<rect x="412.35" y="347.60" width="10.50" height="9.40" fill="#F3F3F3"/>
<text x="417.60" y="353.85" font-size="4.3" fill="#111" text-anchor="middle">4</text>
<rect x="423.55" y="347.60" width="10.30" height="9.40" fill="#F3F3F3"/>
<text x="428.70" y="353.85" font-size="4.3" fill="#111" text-anchor="middle">8</text>
<rect x="434.55" y="347.60" width="11.00" height="9.40" fill="#F3F3F3"/>
<text x="440.05" y="353.85" font-size="4.3" fill="#111" text-anchor="middle">11</text>
</g>
</svg>
</body></html>
